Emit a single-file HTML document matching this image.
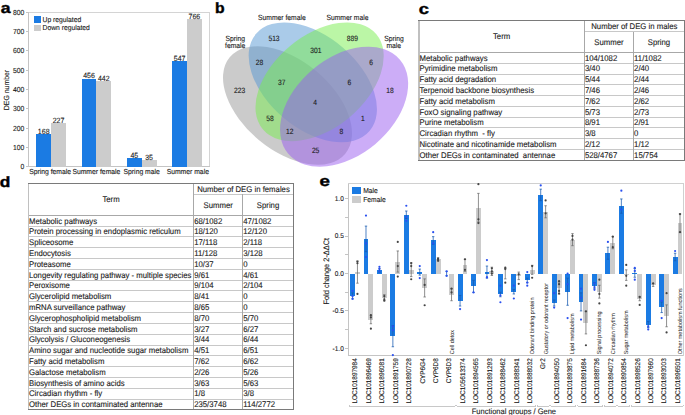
<!DOCTYPE html>
<html><head><meta charset="utf-8"><style>
html,body{margin:0;padding:0;background:#fff;}
body{width:685px;height:415px;overflow:hidden;}
svg{display:block;font-family:"Liberation Sans", sans-serif;} text{white-space:pre;}
</style></head><body>
<svg width="685" height="415" viewBox="0 0 685 415" shape-rendering="crispEdges" text-rendering="geometricPrecision">
<rect width="685" height="415" fill="#fff"/>
<text x="0.80" y="13.00" font-size="15.00" text-anchor="start" fill="#000"  font-weight="bold"  stroke="#000" stroke-width="0.4" textLength="9.8" lengthAdjust="spacingAndGlyphs">a</text>
<text x="214.90" y="13.00" font-size="15.00" text-anchor="start" fill="#000"  font-weight="bold"  stroke="#000" stroke-width="0.4" textLength="9.6" lengthAdjust="spacingAndGlyphs">b</text>
<text x="418.80" y="13.50" font-size="15.00" text-anchor="start" fill="#000"  font-weight="bold"  stroke="#000" stroke-width="0.4" textLength="10.2" lengthAdjust="spacingAndGlyphs">c</text>
<text x="-0.20" y="186.50" font-size="15.00" text-anchor="start" fill="#000"  font-weight="bold"  stroke="#000" stroke-width="0.4" textLength="10.6" lengthAdjust="spacingAndGlyphs">d</text>
<text x="319.60" y="186.00" font-size="15.00" text-anchor="start" fill="#000"  font-weight="bold"  stroke="#000" stroke-width="0.4" textLength="10.4" lengthAdjust="spacingAndGlyphs">e</text>
<line  x1="28.50" y1="12.40" x2="28.50" y2="166.80" stroke="#c4c4c4" stroke-width="1"/>
<line  x1="26.00" y1="12.40" x2="209.50" y2="12.40" stroke="#d4d4d4" stroke-width="1"/>
<line  x1="209.50" y1="12.40" x2="209.50" y2="166.80" stroke="#d4d4d4" stroke-width="1"/>
<line  x1="26.00" y1="166.80" x2="209.50" y2="166.80" stroke="#c4c4c4" stroke-width="1"/>
<line  x1="26.00" y1="166.80" x2="28.50" y2="166.80" stroke="#c4c4c4" stroke-width="1"/>
<text x="24.30" y="169.20" font-size="7.28" text-anchor="end" fill="#1a1a1a" stroke="#1a1a1a" stroke-width="0.12" font-weight="normal" textLength="3.78" lengthAdjust="spacingAndGlyphs" >0</text>
<line  x1="26.00" y1="147.48" x2="28.50" y2="147.48" stroke="#c4c4c4" stroke-width="1"/>
<text x="24.30" y="149.88" font-size="7.28" text-anchor="end" fill="#1a1a1a" stroke="#1a1a1a" stroke-width="0.12" font-weight="normal" textLength="11.34" lengthAdjust="spacingAndGlyphs" >100</text>
<line  x1="26.00" y1="128.16" x2="28.50" y2="128.16" stroke="#c4c4c4" stroke-width="1"/>
<text x="24.30" y="130.56" font-size="7.28" text-anchor="end" fill="#1a1a1a" stroke="#1a1a1a" stroke-width="0.12" font-weight="normal" textLength="11.34" lengthAdjust="spacingAndGlyphs" >200</text>
<line  x1="26.00" y1="108.84" x2="28.50" y2="108.84" stroke="#c4c4c4" stroke-width="1"/>
<text x="24.30" y="111.24" font-size="7.28" text-anchor="end" fill="#1a1a1a" stroke="#1a1a1a" stroke-width="0.12" font-weight="normal" textLength="11.34" lengthAdjust="spacingAndGlyphs" >300</text>
<line  x1="26.00" y1="89.52" x2="28.50" y2="89.52" stroke="#c4c4c4" stroke-width="1"/>
<text x="24.30" y="91.92" font-size="7.28" text-anchor="end" fill="#1a1a1a" stroke="#1a1a1a" stroke-width="0.12" font-weight="normal" textLength="11.34" lengthAdjust="spacingAndGlyphs" >400</text>
<line  x1="26.00" y1="70.20" x2="28.50" y2="70.20" stroke="#c4c4c4" stroke-width="1"/>
<text x="24.30" y="72.60" font-size="7.28" text-anchor="end" fill="#1a1a1a" stroke="#1a1a1a" stroke-width="0.12" font-weight="normal" textLength="11.34" lengthAdjust="spacingAndGlyphs" >500</text>
<line  x1="26.00" y1="50.88" x2="28.50" y2="50.88" stroke="#c4c4c4" stroke-width="1"/>
<text x="24.30" y="53.28" font-size="7.28" text-anchor="end" fill="#1a1a1a" stroke="#1a1a1a" stroke-width="0.12" font-weight="normal" textLength="11.34" lengthAdjust="spacingAndGlyphs" >600</text>
<line  x1="26.00" y1="31.56" x2="28.50" y2="31.56" stroke="#c4c4c4" stroke-width="1"/>
<text x="24.30" y="33.96" font-size="7.28" text-anchor="end" fill="#1a1a1a" stroke="#1a1a1a" stroke-width="0.12" font-weight="normal" textLength="11.34" lengthAdjust="spacingAndGlyphs" >700</text>
<line  x1="26.00" y1="12.24" x2="28.50" y2="12.24" stroke="#c4c4c4" stroke-width="1"/>
<text x="24.30" y="14.64" font-size="7.28" text-anchor="end" fill="#1a1a1a" stroke="#1a1a1a" stroke-width="0.12" font-weight="normal" textLength="11.34" lengthAdjust="spacingAndGlyphs" >800</text>
<text x="0.00" y="0.00" font-size="7.38" text-anchor="middle" fill="#1a1a1a" stroke="#1a1a1a" stroke-width="0.12" font-weight="normal" textLength="40.26" lengthAdjust="spacingAndGlyphs" transform="translate(9.3,90) rotate(-90)">DEG number</text>
<rect x="36.30" y="134.34" width="14.80" height="32.46" fill="#1b7be3"/>
<rect x="51.10" y="122.94" width="14.80" height="43.86" fill="#cccccc"/>
<text x="43.70" y="133.74" font-size="7.49" text-anchor="middle" fill="#1a1a1a" stroke="#1a1a1a" stroke-width="0.12" font-weight="normal" textLength="11.68" lengthAdjust="spacingAndGlyphs" >168</text>
<text x="58.50" y="122.64" font-size="7.49" text-anchor="middle" fill="#1a1a1a" stroke="#1a1a1a" stroke-width="0.12" font-weight="normal" textLength="11.68" lengthAdjust="spacingAndGlyphs" >227</text>
<text x="50.10" y="174.00" font-size="7.28" text-anchor="middle" fill="#1a1a1a" stroke="#1a1a1a" stroke-width="0.12" font-weight="normal" textLength="41.95" lengthAdjust="spacingAndGlyphs" >Spring female</text>
<rect x="81.60" y="78.70" width="14.80" height="88.10" fill="#1b7be3"/>
<rect x="96.40" y="81.41" width="14.80" height="85.39" fill="#cccccc"/>
<text x="89.00" y="78.10" font-size="7.49" text-anchor="middle" fill="#1a1a1a" stroke="#1a1a1a" stroke-width="0.12" font-weight="normal" textLength="11.68" lengthAdjust="spacingAndGlyphs" >456</text>
<text x="103.80" y="81.11" font-size="7.49" text-anchor="middle" fill="#1a1a1a" stroke="#1a1a1a" stroke-width="0.12" font-weight="normal" textLength="11.68" lengthAdjust="spacingAndGlyphs" >442</text>
<text x="96.40" y="174.00" font-size="7.28" text-anchor="middle" fill="#1a1a1a" stroke="#1a1a1a" stroke-width="0.12" font-weight="normal" textLength="47.99" lengthAdjust="spacingAndGlyphs" >Summer female</text>
<rect x="126.90" y="158.11" width="14.80" height="8.69" fill="#1b7be3"/>
<rect x="141.70" y="160.04" width="14.80" height="6.76" fill="#cccccc"/>
<text x="134.30" y="157.51" font-size="7.49" text-anchor="middle" fill="#1a1a1a" stroke="#1a1a1a" stroke-width="0.12" font-weight="normal" textLength="7.79" lengthAdjust="spacingAndGlyphs" >45</text>
<text x="149.10" y="159.74" font-size="7.49" text-anchor="middle" fill="#1a1a1a" stroke="#1a1a1a" stroke-width="0.12" font-weight="normal" textLength="7.79" lengthAdjust="spacingAndGlyphs" >35</text>
<text x="141.70" y="174.00" font-size="7.28" text-anchor="middle" fill="#1a1a1a" stroke="#1a1a1a" stroke-width="0.12" font-weight="normal" textLength="36.28" lengthAdjust="spacingAndGlyphs" >Spring male</text>
<rect x="172.20" y="61.12" width="14.80" height="105.68" fill="#1b7be3"/>
<rect x="187.00" y="18.81" width="14.80" height="147.99" fill="#cccccc"/>
<text x="179.60" y="60.52" font-size="7.49" text-anchor="middle" fill="#1a1a1a" stroke="#1a1a1a" stroke-width="0.12" font-weight="normal" textLength="11.68" lengthAdjust="spacingAndGlyphs" >547</text>
<text x="194.40" y="18.51" font-size="7.49" text-anchor="middle" fill="#1a1a1a" stroke="#1a1a1a" stroke-width="0.12" font-weight="normal" textLength="11.68" lengthAdjust="spacingAndGlyphs" >766</text>
<text x="187.80" y="174.00" font-size="7.28" text-anchor="middle" fill="#1a1a1a" stroke="#1a1a1a" stroke-width="0.12" font-weight="normal" textLength="42.32" lengthAdjust="spacingAndGlyphs" >Summer male</text>
<rect x="34.00" y="16.30" width="7.00" height="6.20" fill="#1b7be3"/>
<rect x="34.00" y="24.90" width="7.00" height="5.80" fill="#cccccc"/>
<text x="42.60" y="21.60" font-size="7.22" text-anchor="start" fill="#1a1a1a" stroke="#1a1a1a" stroke-width="0.12" font-weight="normal" textLength="38.65" lengthAdjust="spacingAndGlyphs" >Up regulated</text>
<text x="42.60" y="30.20" font-size="7.22" text-anchor="start" fill="#1a1a1a" stroke="#1a1a1a" stroke-width="0.12" font-weight="normal" textLength="47.28" lengthAdjust="spacingAndGlyphs" >Down regulated</text>
<ellipse shape-rendering="geometricPrecision" cx="287.50" cy="105.50" rx="75.20" ry="44.80" transform="rotate(39.8 287.50 105.50)" fill="#979797" fill-opacity="0.5"/>
<ellipse shape-rendering="geometricPrecision" cx="312.80" cy="82.40" rx="74.70" ry="46.00" transform="rotate(40.6 312.80 82.40)" fill="#5597d3" fill-opacity="0.5"/>
<ellipse shape-rendering="geometricPrecision" cx="319.60" cy="81.80" rx="74.00" ry="46.40" transform="rotate(140.1 319.60 81.80)" fill="#77ed4d" fill-opacity="0.5"/>
<ellipse shape-rendering="geometricPrecision" cx="344.10" cy="106.70" rx="73.00" ry="48.70" transform="rotate(139.9 344.10 106.70)" fill="#9a5cf0" fill-opacity="0.5"/>
<text x="274.00" y="40.90" font-size="7.70" text-anchor="middle" fill="#1a1a1a" stroke="#1a1a1a" stroke-width="0.12" font-weight="normal" textLength="11.18" lengthAdjust="spacingAndGlyphs" >513</text>
<text x="352.40" y="40.90" font-size="7.70" text-anchor="middle" fill="#1a1a1a" stroke="#1a1a1a" stroke-width="0.12" font-weight="normal" textLength="11.18" lengthAdjust="spacingAndGlyphs" >889</text>
<text x="259.50" y="64.60" font-size="7.70" text-anchor="middle" fill="#1a1a1a" stroke="#1a1a1a" stroke-width="0.12" font-weight="normal" textLength="7.45" lengthAdjust="spacingAndGlyphs" >28</text>
<text x="315.80" y="52.60" font-size="7.70" text-anchor="middle" fill="#1a1a1a" stroke="#1a1a1a" stroke-width="0.12" font-weight="normal" textLength="11.18" lengthAdjust="spacingAndGlyphs" >301</text>
<text x="371.00" y="64.60" font-size="7.70" text-anchor="middle" fill="#1a1a1a" stroke="#1a1a1a" stroke-width="0.12" font-weight="normal" textLength="3.73" lengthAdjust="spacingAndGlyphs" >6</text>
<text x="239.70" y="93.30" font-size="7.70" text-anchor="middle" fill="#1a1a1a" stroke="#1a1a1a" stroke-width="0.12" font-weight="normal" textLength="11.18" lengthAdjust="spacingAndGlyphs" >223</text>
<text x="281.70" y="84.90" font-size="7.70" text-anchor="middle" fill="#1a1a1a" stroke="#1a1a1a" stroke-width="0.12" font-weight="normal" textLength="7.45" lengthAdjust="spacingAndGlyphs" >37</text>
<text x="349.30" y="84.90" font-size="7.70" text-anchor="middle" fill="#1a1a1a" stroke="#1a1a1a" stroke-width="0.12" font-weight="normal" textLength="3.73" lengthAdjust="spacingAndGlyphs" >6</text>
<text x="390.00" y="93.30" font-size="7.70" text-anchor="middle" fill="#1a1a1a" stroke="#1a1a1a" stroke-width="0.12" font-weight="normal" textLength="7.45" lengthAdjust="spacingAndGlyphs" >18</text>
<text x="315.20" y="105.20" font-size="7.70" text-anchor="middle" fill="#1a1a1a" stroke="#1a1a1a" stroke-width="0.12" font-weight="normal" textLength="3.73" lengthAdjust="spacingAndGlyphs" >4</text>
<text x="269.90" y="120.80" font-size="7.70" text-anchor="middle" fill="#1a1a1a" stroke="#1a1a1a" stroke-width="0.12" font-weight="normal" textLength="7.45" lengthAdjust="spacingAndGlyphs" >58</text>
<text x="362.90" y="120.80" font-size="7.70" text-anchor="middle" fill="#1a1a1a" stroke="#1a1a1a" stroke-width="0.12" font-weight="normal" textLength="3.73" lengthAdjust="spacingAndGlyphs" >1</text>
<text x="289.80" y="134.30" font-size="7.70" text-anchor="middle" fill="#1a1a1a" stroke="#1a1a1a" stroke-width="0.12" font-weight="normal" textLength="7.45" lengthAdjust="spacingAndGlyphs" >12</text>
<text x="341.40" y="134.30" font-size="7.70" text-anchor="middle" fill="#1a1a1a" stroke="#1a1a1a" stroke-width="0.12" font-weight="normal" textLength="3.73" lengthAdjust="spacingAndGlyphs" >8</text>
<text x="315.60" y="152.60" font-size="7.70" text-anchor="middle" fill="#1a1a1a" stroke="#1a1a1a" stroke-width="0.12" font-weight="normal" textLength="7.45" lengthAdjust="spacingAndGlyphs" >25</text>
<text x="281.90" y="20.20" font-size="7.56" text-anchor="middle" fill="#1a1a1a" stroke="#1a1a1a" stroke-width="0.12" font-weight="normal" textLength="47.64" lengthAdjust="spacingAndGlyphs" >Summer female</text>
<text x="347.50" y="20.20" font-size="7.56" text-anchor="middle" fill="#1a1a1a" stroke="#1a1a1a" stroke-width="0.12" font-weight="normal" textLength="42.01" lengthAdjust="spacingAndGlyphs" >Summer male</text>
<text x="235.20" y="40.90" font-size="7.56" text-anchor="middle" fill="#1a1a1a" stroke="#1a1a1a" stroke-width="0.12" font-weight="normal" textLength="19.51" lengthAdjust="spacingAndGlyphs" >Spring</text>
<text x="235.20" y="47.70" font-size="7.56" text-anchor="middle" fill="#1a1a1a" stroke="#1a1a1a" stroke-width="0.12" font-weight="normal" textLength="20.26" lengthAdjust="spacingAndGlyphs" >female</text>
<text x="394.00" y="40.90" font-size="7.56" text-anchor="middle" fill="#1a1a1a" stroke="#1a1a1a" stroke-width="0.12" font-weight="normal" textLength="19.51" lengthAdjust="spacingAndGlyphs" >Spring</text>
<text x="393.80" y="47.70" font-size="7.56" text-anchor="middle" fill="#1a1a1a" stroke="#1a1a1a" stroke-width="0.12" font-weight="normal" textLength="14.63" lengthAdjust="spacingAndGlyphs" >male</text>
<line  x1="418.90" y1="63.27" x2="684.40" y2="63.27" stroke="#c8c8c8" stroke-width="1"/>
<line  x1="418.90" y1="74.04" x2="684.40" y2="74.04" stroke="#c8c8c8" stroke-width="1"/>
<line  x1="418.90" y1="84.81" x2="684.40" y2="84.81" stroke="#c8c8c8" stroke-width="1"/>
<line  x1="418.90" y1="95.58" x2="684.40" y2="95.58" stroke="#c8c8c8" stroke-width="1"/>
<line  x1="418.90" y1="106.35" x2="684.40" y2="106.35" stroke="#c8c8c8" stroke-width="1"/>
<line  x1="418.90" y1="117.12" x2="684.40" y2="117.12" stroke="#c8c8c8" stroke-width="1"/>
<line  x1="418.90" y1="127.89" x2="684.40" y2="127.89" stroke="#c8c8c8" stroke-width="1"/>
<line  x1="418.90" y1="138.66" x2="684.40" y2="138.66" stroke="#c8c8c8" stroke-width="1"/>
<line  x1="418.90" y1="149.43" x2="684.40" y2="149.43" stroke="#c8c8c8" stroke-width="1"/>
<line  x1="584.30" y1="31.50" x2="684.40" y2="31.50" stroke="#c8c8c8" stroke-width="1"/>
<line  x1="418.90" y1="52.50" x2="684.40" y2="52.50" stroke="#a8a8a8" stroke-width="1"/>
<line  x1="584.30" y1="20.60" x2="584.30" y2="160.20" stroke="#a8a8a8" stroke-width="1"/>
<line  x1="633.50" y1="31.50" x2="633.50" y2="160.20" stroke="#a8a8a8" stroke-width="1"/>
<line  x1="418.90" y1="20.60" x2="418.90" y2="160.20" stroke="#c0c0c0" stroke-width="1.2"/>
<line  x1="418.40" y1="20.60" x2="684.90" y2="20.60" stroke="#7a7a7a" stroke-width="1"/>
<line  x1="684.40" y1="20.60" x2="684.40" y2="160.70" stroke="#7a7a7a" stroke-width="1"/>
<line  x1="418.40" y1="160.20" x2="684.90" y2="160.20" stroke="#7a7a7a" stroke-width="1"/>
<text x="501.60" y="39.35" font-size="8.29" text-anchor="middle" fill="#1a1a1a" stroke="#1a1a1a" stroke-width="0.12" font-weight="normal" textLength="17.22" lengthAdjust="spacingAndGlyphs" >Term</text>
<text x="634.35" y="28.85" font-size="8.29" text-anchor="middle" fill="#1a1a1a" stroke="#1a1a1a" stroke-width="0.12" font-weight="normal" textLength="86.14" lengthAdjust="spacingAndGlyphs" >Number of DEG in males</text>
<text x="608.90" y="44.80" font-size="8.29" text-anchor="middle" fill="#1a1a1a" stroke="#1a1a1a" stroke-width="0.12" font-weight="normal" textLength="29.28" lengthAdjust="spacingAndGlyphs" >Summer</text>
<text x="658.95" y="44.80" font-size="8.29" text-anchor="middle" fill="#1a1a1a" stroke="#1a1a1a" stroke-width="0.12" font-weight="normal" textLength="22.40" lengthAdjust="spacingAndGlyphs" >Spring</text>
<text x="419.50" y="60.70" font-size="8.29" text-anchor="start" fill="#1a1a1a" stroke="#1a1a1a" stroke-width="0.12" font-weight="normal" textLength="68.06" lengthAdjust="spacingAndGlyphs" >Metabolic pathways</text>
<text x="584.90" y="60.70" font-size="8.29" text-anchor="start" fill="#1a1a1a" stroke="#1a1a1a" stroke-width="0.12" font-weight="normal" textLength="32.32" lengthAdjust="spacingAndGlyphs" >104/1082</text>
<text x="634.10" y="60.70" font-size="8.29" text-anchor="start" fill="#1a1a1a" stroke="#1a1a1a" stroke-width="0.12" font-weight="normal" textLength="27.44" lengthAdjust="spacingAndGlyphs" >11/1082</text>
<text x="419.50" y="71.47" font-size="8.29" text-anchor="start" fill="#1a1a1a" stroke="#1a1a1a" stroke-width="0.12" font-weight="normal" textLength="77.95" lengthAdjust="spacingAndGlyphs" >Pyrimidine metabolism</text>
<text x="584.90" y="71.47" font-size="8.29" text-anchor="start" fill="#1a1a1a" stroke="#1a1a1a" stroke-width="0.12" font-weight="normal" textLength="15.08" lengthAdjust="spacingAndGlyphs" >3/40</text>
<text x="634.10" y="71.47" font-size="8.29" text-anchor="start" fill="#1a1a1a" stroke="#1a1a1a" stroke-width="0.12" font-weight="normal" textLength="15.08" lengthAdjust="spacingAndGlyphs" >2/40</text>
<text x="419.50" y="82.24" font-size="8.29" text-anchor="start" fill="#1a1a1a" stroke="#1a1a1a" stroke-width="0.12" font-weight="normal" textLength="76.68" lengthAdjust="spacingAndGlyphs" >Fatty acid degradation</text>
<text x="584.90" y="82.24" font-size="8.29" text-anchor="start" fill="#1a1a1a" stroke="#1a1a1a" stroke-width="0.12" font-weight="normal" textLength="15.08" lengthAdjust="spacingAndGlyphs" >5/44</text>
<text x="634.10" y="82.24" font-size="8.29" text-anchor="start" fill="#1a1a1a" stroke="#1a1a1a" stroke-width="0.12" font-weight="normal" textLength="15.08" lengthAdjust="spacingAndGlyphs" >2/44</text>
<text x="419.50" y="93.01" font-size="8.29" text-anchor="start" fill="#1a1a1a" stroke="#1a1a1a" stroke-width="0.12" font-weight="normal" textLength="114.60" lengthAdjust="spacingAndGlyphs" >Terpenoid backbone biosynthesis</text>
<text x="584.90" y="93.01" font-size="8.29" text-anchor="start" fill="#1a1a1a" stroke="#1a1a1a" stroke-width="0.12" font-weight="normal" textLength="15.08" lengthAdjust="spacingAndGlyphs" >7/46</text>
<text x="634.10" y="93.01" font-size="8.29" text-anchor="start" fill="#1a1a1a" stroke="#1a1a1a" stroke-width="0.12" font-weight="normal" textLength="15.08" lengthAdjust="spacingAndGlyphs" >2/46</text>
<text x="419.50" y="103.78" font-size="8.29" text-anchor="start" fill="#1a1a1a" stroke="#1a1a1a" stroke-width="0.12" font-weight="normal" textLength="75.37" lengthAdjust="spacingAndGlyphs" >Fatty acid metabolism</text>
<text x="584.90" y="103.78" font-size="8.29" text-anchor="start" fill="#1a1a1a" stroke="#1a1a1a" stroke-width="0.12" font-weight="normal" textLength="15.08" lengthAdjust="spacingAndGlyphs" >7/62</text>
<text x="634.10" y="103.78" font-size="8.29" text-anchor="start" fill="#1a1a1a" stroke="#1a1a1a" stroke-width="0.12" font-weight="normal" textLength="15.08" lengthAdjust="spacingAndGlyphs" >2/62</text>
<text x="419.50" y="114.55" font-size="8.29" text-anchor="start" fill="#1a1a1a" stroke="#1a1a1a" stroke-width="0.12" font-weight="normal" textLength="82.71" lengthAdjust="spacingAndGlyphs" >FoxO signaling pathway</text>
<text x="584.90" y="114.55" font-size="8.29" text-anchor="start" fill="#1a1a1a" stroke="#1a1a1a" stroke-width="0.12" font-weight="normal" textLength="15.08" lengthAdjust="spacingAndGlyphs" >5/73</text>
<text x="634.10" y="114.55" font-size="8.29" text-anchor="start" fill="#1a1a1a" stroke="#1a1a1a" stroke-width="0.12" font-weight="normal" textLength="15.08" lengthAdjust="spacingAndGlyphs" >2/73</text>
<text x="419.50" y="125.32" font-size="8.29" text-anchor="start" fill="#1a1a1a" stroke="#1a1a1a" stroke-width="0.12" font-weight="normal" textLength="64.18" lengthAdjust="spacingAndGlyphs" >Purine metabolism</text>
<text x="584.90" y="125.32" font-size="8.29" text-anchor="start" fill="#1a1a1a" stroke="#1a1a1a" stroke-width="0.12" font-weight="normal" textLength="15.08" lengthAdjust="spacingAndGlyphs" >8/91</text>
<text x="634.10" y="125.32" font-size="8.29" text-anchor="start" fill="#1a1a1a" stroke="#1a1a1a" stroke-width="0.12" font-weight="normal" textLength="15.08" lengthAdjust="spacingAndGlyphs" >2/91</text>
<text x="419.50" y="136.09" font-size="8.29" text-anchor="start" fill="#1a1a1a" stroke="#1a1a1a" stroke-width="0.12" font-weight="normal" textLength="75.36" lengthAdjust="spacingAndGlyphs" >Circadian rhythm  - fly</text>
<text x="584.90" y="136.09" font-size="8.29" text-anchor="start" fill="#1a1a1a" stroke="#1a1a1a" stroke-width="0.12" font-weight="normal" textLength="10.77" lengthAdjust="spacingAndGlyphs" >3/8</text>
<text x="634.10" y="136.09" font-size="8.29" text-anchor="start" fill="#1a1a1a" stroke="#1a1a1a" stroke-width="0.12" font-weight="normal" textLength="4.31" lengthAdjust="spacingAndGlyphs" >0</text>
<text x="419.50" y="146.86" font-size="8.29" text-anchor="start" fill="#1a1a1a" stroke="#1a1a1a" stroke-width="0.12" font-weight="normal" textLength="136.98" lengthAdjust="spacingAndGlyphs" >Nicotinate and nicotinamide metabolism</text>
<text x="584.90" y="146.86" font-size="8.29" text-anchor="start" fill="#1a1a1a" stroke="#1a1a1a" stroke-width="0.12" font-weight="normal" textLength="15.08" lengthAdjust="spacingAndGlyphs" >2/12</text>
<text x="634.10" y="146.86" font-size="8.29" text-anchor="start" fill="#1a1a1a" stroke="#1a1a1a" stroke-width="0.12" font-weight="normal" textLength="15.08" lengthAdjust="spacingAndGlyphs" >1/12</text>
<text x="419.50" y="157.63" font-size="8.29" text-anchor="start" fill="#1a1a1a" stroke="#1a1a1a" stroke-width="0.12" font-weight="normal" textLength="135.70" lengthAdjust="spacingAndGlyphs" >Other DEGs in contaminated  antennae</text>
<text x="584.90" y="157.63" font-size="8.29" text-anchor="start" fill="#1a1a1a" stroke="#1a1a1a" stroke-width="0.12" font-weight="normal" textLength="32.32" lengthAdjust="spacingAndGlyphs" >528/4767</text>
<text x="634.10" y="157.63" font-size="8.29" text-anchor="start" fill="#1a1a1a" stroke="#1a1a1a" stroke-width="0.12" font-weight="normal" textLength="23.70" lengthAdjust="spacingAndGlyphs" >15/754</text>
<line  x1="28.40" y1="226.11" x2="293.40" y2="226.11" stroke="#c8c8c8" stroke-width="1"/>
<line  x1="28.40" y1="236.92" x2="293.40" y2="236.92" stroke="#c8c8c8" stroke-width="1"/>
<line  x1="28.40" y1="247.73" x2="293.40" y2="247.73" stroke="#c8c8c8" stroke-width="1"/>
<line  x1="28.40" y1="258.54" x2="293.40" y2="258.54" stroke="#c8c8c8" stroke-width="1"/>
<line  x1="28.40" y1="269.35" x2="293.40" y2="269.35" stroke="#c8c8c8" stroke-width="1"/>
<line  x1="28.40" y1="280.16" x2="293.40" y2="280.16" stroke="#c8c8c8" stroke-width="1"/>
<line  x1="28.40" y1="290.97" x2="293.40" y2="290.97" stroke="#c8c8c8" stroke-width="1"/>
<line  x1="28.40" y1="301.78" x2="293.40" y2="301.78" stroke="#c8c8c8" stroke-width="1"/>
<line  x1="28.40" y1="312.59" x2="293.40" y2="312.59" stroke="#c8c8c8" stroke-width="1"/>
<line  x1="28.40" y1="323.40" x2="293.40" y2="323.40" stroke="#c8c8c8" stroke-width="1"/>
<line  x1="28.40" y1="334.21" x2="293.40" y2="334.21" stroke="#c8c8c8" stroke-width="1"/>
<line  x1="28.40" y1="345.02" x2="293.40" y2="345.02" stroke="#c8c8c8" stroke-width="1"/>
<line  x1="28.40" y1="355.83" x2="293.40" y2="355.83" stroke="#c8c8c8" stroke-width="1"/>
<line  x1="28.40" y1="366.64" x2="293.40" y2="366.64" stroke="#c8c8c8" stroke-width="1"/>
<line  x1="28.40" y1="377.45" x2="293.40" y2="377.45" stroke="#c8c8c8" stroke-width="1"/>
<line  x1="28.40" y1="388.26" x2="293.40" y2="388.26" stroke="#c8c8c8" stroke-width="1"/>
<line  x1="28.40" y1="399.07" x2="293.40" y2="399.07" stroke="#c8c8c8" stroke-width="1"/>
<line  x1="193.60" y1="194.40" x2="293.40" y2="194.40" stroke="#c8c8c8" stroke-width="1"/>
<line  x1="28.40" y1="215.30" x2="293.40" y2="215.30" stroke="#a8a8a8" stroke-width="1"/>
<line  x1="193.60" y1="183.50" x2="193.60" y2="409.88" stroke="#a8a8a8" stroke-width="1"/>
<line  x1="242.70" y1="194.40" x2="242.70" y2="409.88" stroke="#a8a8a8" stroke-width="1"/>
<line  x1="28.40" y1="183.50" x2="28.40" y2="409.88" stroke="#c0c0c0" stroke-width="1.2"/>
<line  x1="27.90" y1="183.50" x2="293.90" y2="183.50" stroke="#7a7a7a" stroke-width="1"/>
<line  x1="293.40" y1="183.50" x2="293.40" y2="410.38" stroke="#7a7a7a" stroke-width="1"/>
<line  x1="27.90" y1="409.88" x2="293.90" y2="409.88" stroke="#7a7a7a" stroke-width="1"/>
<text x="111.00" y="202.20" font-size="8.29" text-anchor="middle" fill="#1a1a1a" stroke="#1a1a1a" stroke-width="0.12" font-weight="normal" textLength="17.22" lengthAdjust="spacingAndGlyphs" >Term</text>
<text x="243.50" y="191.75" font-size="8.29" text-anchor="middle" fill="#1a1a1a" stroke="#1a1a1a" stroke-width="0.12" font-weight="normal" textLength="92.60" lengthAdjust="spacingAndGlyphs" >Number of DEG in females</text>
<text x="218.15" y="207.65" font-size="8.29" text-anchor="middle" fill="#1a1a1a" stroke="#1a1a1a" stroke-width="0.12" font-weight="normal" textLength="29.28" lengthAdjust="spacingAndGlyphs" >Summer</text>
<text x="268.05" y="207.65" font-size="8.29" text-anchor="middle" fill="#1a1a1a" stroke="#1a1a1a" stroke-width="0.12" font-weight="normal" textLength="22.40" lengthAdjust="spacingAndGlyphs" >Spring</text>
<text x="29.00" y="223.50" font-size="8.29" text-anchor="start" fill="#1a1a1a" stroke="#1a1a1a" stroke-width="0.12" font-weight="normal" textLength="68.06" lengthAdjust="spacingAndGlyphs" >Metabolic pathways</text>
<text x="194.20" y="223.50" font-size="8.29" text-anchor="start" fill="#1a1a1a" stroke="#1a1a1a" stroke-width="0.12" font-weight="normal" textLength="28.01" lengthAdjust="spacingAndGlyphs" >68/1082</text>
<text x="243.30" y="223.50" font-size="8.29" text-anchor="start" fill="#1a1a1a" stroke="#1a1a1a" stroke-width="0.12" font-weight="normal" textLength="28.01" lengthAdjust="spacingAndGlyphs" >47/1082</text>
<text x="29.00" y="234.31" font-size="8.29" text-anchor="start" fill="#1a1a1a" stroke="#1a1a1a" stroke-width="0.12" font-weight="normal" textLength="151.62" lengthAdjust="spacingAndGlyphs" >Protein processing in endoplasmic reticulum</text>
<text x="194.20" y="234.31" font-size="8.29" text-anchor="start" fill="#1a1a1a" stroke="#1a1a1a" stroke-width="0.12" font-weight="normal" textLength="23.70" lengthAdjust="spacingAndGlyphs" >18/120</text>
<text x="243.30" y="234.31" font-size="8.29" text-anchor="start" fill="#1a1a1a" stroke="#1a1a1a" stroke-width="0.12" font-weight="normal" textLength="23.70" lengthAdjust="spacingAndGlyphs" >12/120</text>
<text x="29.00" y="245.12" font-size="8.29" text-anchor="start" fill="#1a1a1a" stroke="#1a1a1a" stroke-width="0.12" font-weight="normal" textLength="44.37" lengthAdjust="spacingAndGlyphs" >Spliceosome</text>
<text x="194.20" y="245.12" font-size="8.29" text-anchor="start" fill="#1a1a1a" stroke="#1a1a1a" stroke-width="0.12" font-weight="normal" textLength="23.13" lengthAdjust="spacingAndGlyphs" >17/118</text>
<text x="243.30" y="245.12" font-size="8.29" text-anchor="start" fill="#1a1a1a" stroke="#1a1a1a" stroke-width="0.12" font-weight="normal" textLength="18.82" lengthAdjust="spacingAndGlyphs" >2/118</text>
<text x="29.00" y="255.93" font-size="8.29" text-anchor="start" fill="#1a1a1a" stroke="#1a1a1a" stroke-width="0.12" font-weight="normal" textLength="41.78" lengthAdjust="spacingAndGlyphs" >Endocytosis</text>
<text x="194.20" y="255.93" font-size="8.29" text-anchor="start" fill="#1a1a1a" stroke="#1a1a1a" stroke-width="0.12" font-weight="normal" textLength="23.13" lengthAdjust="spacingAndGlyphs" >11/128</text>
<text x="243.30" y="255.93" font-size="8.29" text-anchor="start" fill="#1a1a1a" stroke="#1a1a1a" stroke-width="0.12" font-weight="normal" textLength="19.39" lengthAdjust="spacingAndGlyphs" >3/128</text>
<text x="29.00" y="266.74" font-size="8.29" text-anchor="start" fill="#1a1a1a" stroke="#1a1a1a" stroke-width="0.12" font-weight="normal" textLength="41.78" lengthAdjust="spacingAndGlyphs" >Proteasome</text>
<text x="194.20" y="266.74" font-size="8.29" text-anchor="start" fill="#1a1a1a" stroke="#1a1a1a" stroke-width="0.12" font-weight="normal" textLength="19.39" lengthAdjust="spacingAndGlyphs" >10/37</text>
<text x="243.30" y="266.74" font-size="8.29" text-anchor="start" fill="#1a1a1a" stroke="#1a1a1a" stroke-width="0.12" font-weight="normal" textLength="4.31" lengthAdjust="spacingAndGlyphs" >0</text>
<text x="29.00" y="277.55" font-size="8.29" text-anchor="start" fill="#1a1a1a" stroke="#1a1a1a" stroke-width="0.12" font-weight="normal" textLength="162.40" lengthAdjust="spacingAndGlyphs" >Longevity regulating pathway - multiple species</text>
<text x="194.20" y="277.55" font-size="8.29" text-anchor="start" fill="#1a1a1a" stroke="#1a1a1a" stroke-width="0.12" font-weight="normal" textLength="15.08" lengthAdjust="spacingAndGlyphs" >9/61</text>
<text x="243.30" y="277.55" font-size="8.29" text-anchor="start" fill="#1a1a1a" stroke="#1a1a1a" stroke-width="0.12" font-weight="normal" textLength="15.08" lengthAdjust="spacingAndGlyphs" >4/61</text>
<text x="29.00" y="288.36" font-size="8.29" text-anchor="start" fill="#1a1a1a" stroke="#1a1a1a" stroke-width="0.12" font-weight="normal" textLength="40.92" lengthAdjust="spacingAndGlyphs" >Peroxisome</text>
<text x="194.20" y="288.36" font-size="8.29" text-anchor="start" fill="#1a1a1a" stroke="#1a1a1a" stroke-width="0.12" font-weight="normal" textLength="19.39" lengthAdjust="spacingAndGlyphs" >9/104</text>
<text x="243.30" y="288.36" font-size="8.29" text-anchor="start" fill="#1a1a1a" stroke="#1a1a1a" stroke-width="0.12" font-weight="normal" textLength="19.39" lengthAdjust="spacingAndGlyphs" >2/104</text>
<text x="29.00" y="299.17" font-size="8.29" text-anchor="start" fill="#1a1a1a" stroke="#1a1a1a" stroke-width="0.12" font-weight="normal" textLength="82.26" lengthAdjust="spacingAndGlyphs" >Glycerolipid metabolism</text>
<text x="194.20" y="299.17" font-size="8.29" text-anchor="start" fill="#1a1a1a" stroke="#1a1a1a" stroke-width="0.12" font-weight="normal" textLength="15.08" lengthAdjust="spacingAndGlyphs" >8/41</text>
<text x="243.30" y="299.17" font-size="8.29" text-anchor="start" fill="#1a1a1a" stroke="#1a1a1a" stroke-width="0.12" font-weight="normal" textLength="4.31" lengthAdjust="spacingAndGlyphs" >0</text>
<text x="29.00" y="309.98" font-size="8.29" text-anchor="start" fill="#1a1a1a" stroke="#1a1a1a" stroke-width="0.12" font-weight="normal" textLength="96.48" lengthAdjust="spacingAndGlyphs" >mRNA surveillance pathway</text>
<text x="194.20" y="309.98" font-size="8.29" text-anchor="start" fill="#1a1a1a" stroke="#1a1a1a" stroke-width="0.12" font-weight="normal" textLength="15.08" lengthAdjust="spacingAndGlyphs" >8/65</text>
<text x="243.30" y="309.98" font-size="8.29" text-anchor="start" fill="#1a1a1a" stroke="#1a1a1a" stroke-width="0.12" font-weight="normal" textLength="4.31" lengthAdjust="spacingAndGlyphs" >0</text>
<text x="29.00" y="320.79" font-size="8.29" text-anchor="start" fill="#1a1a1a" stroke="#1a1a1a" stroke-width="0.12" font-weight="normal" textLength="111.99" lengthAdjust="spacingAndGlyphs" >Glycerophospholipid metabolism</text>
<text x="194.20" y="320.79" font-size="8.29" text-anchor="start" fill="#1a1a1a" stroke="#1a1a1a" stroke-width="0.12" font-weight="normal" textLength="15.08" lengthAdjust="spacingAndGlyphs" >8/70</text>
<text x="243.30" y="320.79" font-size="8.29" text-anchor="start" fill="#1a1a1a" stroke="#1a1a1a" stroke-width="0.12" font-weight="normal" textLength="15.08" lengthAdjust="spacingAndGlyphs" >5/70</text>
<text x="29.00" y="331.60" font-size="8.29" text-anchor="start" fill="#1a1a1a" stroke="#1a1a1a" stroke-width="0.12" font-weight="normal" textLength="108.54" lengthAdjust="spacingAndGlyphs" >Starch and sucrose metabolism</text>
<text x="194.20" y="331.60" font-size="8.29" text-anchor="start" fill="#1a1a1a" stroke="#1a1a1a" stroke-width="0.12" font-weight="normal" textLength="15.08" lengthAdjust="spacingAndGlyphs" >3/27</text>
<text x="243.30" y="331.60" font-size="8.29" text-anchor="start" fill="#1a1a1a" stroke="#1a1a1a" stroke-width="0.12" font-weight="normal" textLength="15.08" lengthAdjust="spacingAndGlyphs" >6/27</text>
<text x="29.00" y="342.41" font-size="8.29" text-anchor="start" fill="#1a1a1a" stroke="#1a1a1a" stroke-width="0.12" font-weight="normal" textLength="101.22" lengthAdjust="spacingAndGlyphs" >Glycolysis / Gluconeogenesis</text>
<text x="194.20" y="342.41" font-size="8.29" text-anchor="start" fill="#1a1a1a" stroke="#1a1a1a" stroke-width="0.12" font-weight="normal" textLength="15.08" lengthAdjust="spacingAndGlyphs" >3/44</text>
<text x="243.30" y="342.41" font-size="8.29" text-anchor="start" fill="#1a1a1a" stroke="#1a1a1a" stroke-width="0.12" font-weight="normal" textLength="15.08" lengthAdjust="spacingAndGlyphs" >6/44</text>
<text x="29.00" y="353.22" font-size="8.29" text-anchor="start" fill="#1a1a1a" stroke="#1a1a1a" stroke-width="0.12" font-weight="normal" textLength="159.38" lengthAdjust="spacingAndGlyphs" >Amino sugar and nucleotide sugar metabolism</text>
<text x="194.20" y="353.22" font-size="8.29" text-anchor="start" fill="#1a1a1a" stroke="#1a1a1a" stroke-width="0.12" font-weight="normal" textLength="15.08" lengthAdjust="spacingAndGlyphs" >4/51</text>
<text x="243.30" y="353.22" font-size="8.29" text-anchor="start" fill="#1a1a1a" stroke="#1a1a1a" stroke-width="0.12" font-weight="normal" textLength="15.08" lengthAdjust="spacingAndGlyphs" >6/51</text>
<text x="29.00" y="364.03" font-size="8.29" text-anchor="start" fill="#1a1a1a" stroke="#1a1a1a" stroke-width="0.12" font-weight="normal" textLength="75.37" lengthAdjust="spacingAndGlyphs" >Fatty acid metabolism</text>
<text x="194.20" y="364.03" font-size="8.29" text-anchor="start" fill="#1a1a1a" stroke="#1a1a1a" stroke-width="0.12" font-weight="normal" textLength="15.08" lengthAdjust="spacingAndGlyphs" >7/62</text>
<text x="243.30" y="364.03" font-size="8.29" text-anchor="start" fill="#1a1a1a" stroke="#1a1a1a" stroke-width="0.12" font-weight="normal" textLength="15.08" lengthAdjust="spacingAndGlyphs" >6/62</text>
<text x="29.00" y="374.84" font-size="8.29" text-anchor="start" fill="#1a1a1a" stroke="#1a1a1a" stroke-width="0.12" font-weight="normal" textLength="76.67" lengthAdjust="spacingAndGlyphs" >Galactose metabolism</text>
<text x="194.20" y="374.84" font-size="8.29" text-anchor="start" fill="#1a1a1a" stroke="#1a1a1a" stroke-width="0.12" font-weight="normal" textLength="15.08" lengthAdjust="spacingAndGlyphs" >2/26</text>
<text x="243.30" y="374.84" font-size="8.29" text-anchor="start" fill="#1a1a1a" stroke="#1a1a1a" stroke-width="0.12" font-weight="normal" textLength="15.08" lengthAdjust="spacingAndGlyphs" >5/26</text>
<text x="29.00" y="385.65" font-size="8.29" text-anchor="start" fill="#1a1a1a" stroke="#1a1a1a" stroke-width="0.12" font-weight="normal" textLength="95.63" lengthAdjust="spacingAndGlyphs" >Biosynthesis of amino acids</text>
<text x="194.20" y="385.65" font-size="8.29" text-anchor="start" fill="#1a1a1a" stroke="#1a1a1a" stroke-width="0.12" font-weight="normal" textLength="15.08" lengthAdjust="spacingAndGlyphs" >3/63</text>
<text x="243.30" y="385.65" font-size="8.29" text-anchor="start" fill="#1a1a1a" stroke="#1a1a1a" stroke-width="0.12" font-weight="normal" textLength="15.08" lengthAdjust="spacingAndGlyphs" >5/63</text>
<text x="29.00" y="396.46" font-size="8.29" text-anchor="start" fill="#1a1a1a" stroke="#1a1a1a" stroke-width="0.12" font-weight="normal" textLength="73.21" lengthAdjust="spacingAndGlyphs" >Circadian rhythm - fly</text>
<text x="194.20" y="396.46" font-size="8.29" text-anchor="start" fill="#1a1a1a" stroke="#1a1a1a" stroke-width="0.12" font-weight="normal" textLength="10.77" lengthAdjust="spacingAndGlyphs" >1/8</text>
<text x="243.30" y="396.46" font-size="8.29" text-anchor="start" fill="#1a1a1a" stroke="#1a1a1a" stroke-width="0.12" font-weight="normal" textLength="10.77" lengthAdjust="spacingAndGlyphs" >3/8</text>
<text x="29.00" y="407.27" font-size="8.29" text-anchor="start" fill="#1a1a1a" stroke="#1a1a1a" stroke-width="0.12" font-weight="normal" textLength="133.54" lengthAdjust="spacingAndGlyphs" >Other DEGs in contaminated antennae</text>
<text x="194.20" y="407.27" font-size="8.29" text-anchor="start" fill="#1a1a1a" stroke="#1a1a1a" stroke-width="0.12" font-weight="normal" textLength="32.32" lengthAdjust="spacingAndGlyphs" >235/3748</text>
<text x="243.30" y="407.27" font-size="8.29" text-anchor="start" fill="#1a1a1a" stroke="#1a1a1a" stroke-width="0.12" font-weight="normal" textLength="31.75" lengthAdjust="spacingAndGlyphs" >114/2772</text>
<line  x1="348.00" y1="183.50" x2="683.80" y2="183.50" stroke="#d0d0d0" stroke-width="1"/>
<line  x1="348.00" y1="183.50" x2="348.00" y2="355.70" stroke="#c4c4c4" stroke-width="1"/>
<line  x1="348.00" y1="355.70" x2="683.80" y2="355.70" stroke="#c4c4c4" stroke-width="1"/>
<line  x1="683.80" y1="183.50" x2="683.80" y2="355.70" stroke="#d0d0d0" stroke-width="1"/>
<line  x1="344.80" y1="348.35" x2="348.00" y2="348.35" stroke="#c4c4c4" stroke-width="1"/>
<text x="343.80" y="350.65" font-size="6.96" text-anchor="end" fill="#1a1a1a" stroke="#1a1a1a" stroke-width="0.12" font-weight="normal" textLength="11.20" lengthAdjust="spacingAndGlyphs" >-1.0</text>
<line  x1="344.80" y1="329.64" x2="348.00" y2="329.64" stroke="#c4c4c4" stroke-width="1"/>
<line  x1="344.80" y1="310.93" x2="348.00" y2="310.93" stroke="#c4c4c4" stroke-width="1"/>
<text x="343.80" y="313.23" font-size="6.96" text-anchor="end" fill="#1a1a1a" stroke="#1a1a1a" stroke-width="0.12" font-weight="normal" textLength="11.20" lengthAdjust="spacingAndGlyphs" >-0.5</text>
<line  x1="344.80" y1="292.21" x2="348.00" y2="292.21" stroke="#c4c4c4" stroke-width="1"/>
<line  x1="344.80" y1="273.50" x2="348.00" y2="273.50" stroke="#c4c4c4" stroke-width="1"/>
<text x="343.80" y="275.80" font-size="6.96" text-anchor="end" fill="#1a1a1a" stroke="#1a1a1a" stroke-width="0.12" font-weight="normal" textLength="9.04" lengthAdjust="spacingAndGlyphs" >0.0</text>
<line  x1="344.80" y1="254.79" x2="348.00" y2="254.79" stroke="#c4c4c4" stroke-width="1"/>
<line  x1="344.80" y1="236.07" x2="348.00" y2="236.07" stroke="#c4c4c4" stroke-width="1"/>
<text x="343.80" y="238.38" font-size="6.96" text-anchor="end" fill="#1a1a1a" stroke="#1a1a1a" stroke-width="0.12" font-weight="normal" textLength="9.04" lengthAdjust="spacingAndGlyphs" >0.5</text>
<line  x1="344.80" y1="217.36" x2="348.00" y2="217.36" stroke="#c4c4c4" stroke-width="1"/>
<line  x1="344.80" y1="198.65" x2="348.00" y2="198.65" stroke="#c4c4c4" stroke-width="1"/>
<text x="343.80" y="200.95" font-size="6.96" text-anchor="end" fill="#1a1a1a" stroke="#1a1a1a" stroke-width="0.12" font-weight="normal" textLength="9.04" lengthAdjust="spacingAndGlyphs" >1.0</text>
<text x="0.00" y="0.00" font-size="7.92" text-anchor="middle" fill="#1a1a1a" stroke="#1a1a1a" stroke-width="0.12" font-weight="normal" textLength="66.65" lengthAdjust="spacingAndGlyphs" transform="translate(328.7,271.2) rotate(-90)">Fold change 2-ΔΔCt</text>
<rect x="352.20" y="186.90" width="8.30" height="6.80" fill="#1b7be3"/>
<rect x="352.20" y="196.20" width="8.30" height="6.40" fill="#cccccc"/>
<text x="363.20" y="192.80" font-size="7.22" text-anchor="start" fill="#1a1a1a" stroke="#1a1a1a" stroke-width="0.12" font-weight="normal" textLength="14.63" lengthAdjust="spacingAndGlyphs" >Male</text>
<text x="363.20" y="202.10" font-size="7.22" text-anchor="start" fill="#1a1a1a" stroke="#1a1a1a" stroke-width="0.12" font-weight="normal" textLength="22.51" lengthAdjust="spacingAndGlyphs" >Female</text>
<rect x="350.10" y="273.60" width="4.90" height="22.32" fill="#1b7be3"/>
<line shape-rendering="geometricPrecision" x1="352.55" y1="292.90" x2="352.55" y2="298.93" stroke="#1559b0" stroke-width="0.75"/>
<line shape-rendering="geometricPrecision" x1="351.35" y1="292.90" x2="353.75" y2="292.90" stroke="#1559b0" stroke-width="0.75"/>
<line shape-rendering="geometricPrecision" x1="351.35" y1="298.93" x2="353.75" y2="298.93" stroke="#1559b0" stroke-width="0.75"/>
<circle shape-rendering="geometricPrecision" cx="352.55" cy="290.94" r="1.1" fill="#2a50f0"/>
<circle shape-rendering="geometricPrecision" cx="352.55" cy="296.22" r="1.1" fill="#2a50f0"/>
<circle shape-rendering="geometricPrecision" cx="352.55" cy="298.86" r="1.1" fill="#2a50f0"/>
<rect x="355.00" y="272.09" width="4.90" height="1.51" fill="#cccccc"/>
<line shape-rendering="geometricPrecision" x1="357.45" y1="261.01" x2="357.45" y2="283.18" stroke="#6a6a6a" stroke-width="0.75"/>
<line shape-rendering="geometricPrecision" x1="356.25" y1="261.01" x2="358.65" y2="261.01" stroke="#6a6a6a" stroke-width="0.75"/>
<line shape-rendering="geometricPrecision" x1="356.25" y1="283.18" x2="358.65" y2="283.18" stroke="#6a6a6a" stroke-width="0.75"/>
<circle shape-rendering="geometricPrecision" cx="357.45" cy="261.54" r="1.1" fill="#444"/>
<circle shape-rendering="geometricPrecision" cx="357.45" cy="263.27" r="1.1" fill="#444"/>
<circle shape-rendering="geometricPrecision" cx="357.45" cy="293.96" r="1.1" fill="#444"/>
<text x="0.00" y="0.00" font-size="6.85" text-anchor="end" fill="#1a1a1a" stroke="#1a1a1a" stroke-width="0.12" font-weight="normal" textLength="45.19" lengthAdjust="spacingAndGlyphs" transform="translate(357.30,358.3) rotate(-90)">LOC101897984</text>
<rect x="363.54" y="238.92" width="4.90" height="34.68" fill="#1b7be3"/>
<line shape-rendering="geometricPrecision" x1="365.99" y1="226.10" x2="365.99" y2="251.73" stroke="#1559b0" stroke-width="0.75"/>
<line shape-rendering="geometricPrecision" x1="364.79" y1="226.10" x2="367.19" y2="226.10" stroke="#1559b0" stroke-width="0.75"/>
<line shape-rendering="geometricPrecision" x1="364.79" y1="251.73" x2="367.19" y2="251.73" stroke="#1559b0" stroke-width="0.75"/>
<circle shape-rendering="geometricPrecision" cx="365.99" cy="215.54" r="1.1" fill="#2a50f0"/>
<circle shape-rendering="geometricPrecision" cx="365.99" cy="257.01" r="1.1" fill="#2a50f0"/>
<circle shape-rendering="geometricPrecision" cx="365.99" cy="243.44" r="1.1" fill="#2a50f0"/>
<rect x="368.44" y="273.60" width="4.90" height="45.99" fill="#cccccc"/>
<line shape-rendering="geometricPrecision" x1="370.89" y1="315.45" x2="370.89" y2="323.74" stroke="#6a6a6a" stroke-width="0.75"/>
<line shape-rendering="geometricPrecision" x1="369.69" y1="315.45" x2="372.09" y2="315.45" stroke="#6a6a6a" stroke-width="0.75"/>
<line shape-rendering="geometricPrecision" x1="369.69" y1="323.74" x2="372.09" y2="323.74" stroke="#6a6a6a" stroke-width="0.75"/>
<circle shape-rendering="geometricPrecision" cx="370.89" cy="328.64" r="1.1" fill="#444"/>
<circle shape-rendering="geometricPrecision" cx="370.89" cy="315.07" r="1.1" fill="#444"/>
<circle shape-rendering="geometricPrecision" cx="370.89" cy="317.33" r="1.1" fill="#444"/>
<text x="0.00" y="0.00" font-size="6.85" text-anchor="end" fill="#1a1a1a" stroke="#1a1a1a" stroke-width="0.12" font-weight="normal" textLength="45.19" lengthAdjust="spacingAndGlyphs" transform="translate(370.74,358.3) rotate(-90)">LOC101896469</text>
<rect x="376.98" y="270.21" width="4.90" height="3.39" fill="#1b7be3"/>
<line shape-rendering="geometricPrecision" x1="379.43" y1="268.32" x2="379.43" y2="272.09" stroke="#1559b0" stroke-width="0.75"/>
<line shape-rendering="geometricPrecision" x1="378.23" y1="268.32" x2="380.63" y2="268.32" stroke="#1559b0" stroke-width="0.75"/>
<line shape-rendering="geometricPrecision" x1="378.23" y1="272.09" x2="380.63" y2="272.09" stroke="#1559b0" stroke-width="0.75"/>
<circle shape-rendering="geometricPrecision" cx="379.43" cy="266.81" r="1.1" fill="#2a50f0"/>
<circle shape-rendering="geometricPrecision" cx="379.43" cy="269.08" r="1.1" fill="#2a50f0"/>
<circle shape-rendering="geometricPrecision" cx="379.43" cy="271.34" r="1.1" fill="#2a50f0"/>
<rect x="381.88" y="273.60" width="4.90" height="24.13" fill="#cccccc"/>
<line shape-rendering="geometricPrecision" x1="384.33" y1="294.71" x2="384.33" y2="300.74" stroke="#6a6a6a" stroke-width="0.75"/>
<line shape-rendering="geometricPrecision" x1="383.13" y1="294.71" x2="385.53" y2="294.71" stroke="#6a6a6a" stroke-width="0.75"/>
<line shape-rendering="geometricPrecision" x1="383.13" y1="300.74" x2="385.53" y2="300.74" stroke="#6a6a6a" stroke-width="0.75"/>
<circle shape-rendering="geometricPrecision" cx="384.33" cy="300.74" r="1.1" fill="#444"/>
<circle shape-rendering="geometricPrecision" cx="384.33" cy="299.24" r="1.1" fill="#444"/>
<circle shape-rendering="geometricPrecision" cx="384.33" cy="296.22" r="1.1" fill="#444"/>
<text x="0.00" y="0.00" font-size="6.85" text-anchor="end" fill="#1a1a1a" stroke="#1a1a1a" stroke-width="0.12" font-weight="normal" textLength="45.19" lengthAdjust="spacingAndGlyphs" transform="translate(384.18,358.3) rotate(-90)">LOC101896081</text>
<rect x="390.42" y="273.60" width="4.90" height="62.58" fill="#1b7be3"/>
<line shape-rendering="geometricPrecision" x1="392.87" y1="325.63" x2="392.87" y2="346.74" stroke="#1559b0" stroke-width="0.75"/>
<line shape-rendering="geometricPrecision" x1="391.67" y1="325.63" x2="394.07" y2="325.63" stroke="#1559b0" stroke-width="0.75"/>
<line shape-rendering="geometricPrecision" x1="391.67" y1="346.74" x2="394.07" y2="346.74" stroke="#1559b0" stroke-width="0.75"/>
<circle shape-rendering="geometricPrecision" cx="392.87" cy="355.03" r="1.1" fill="#2a50f0"/>
<circle shape-rendering="geometricPrecision" cx="392.87" cy="326.38" r="1.1" fill="#2a50f0"/>
<circle shape-rendering="geometricPrecision" cx="392.87" cy="330.15" r="1.1" fill="#2a50f0"/>
<rect x="395.32" y="261.54" width="4.90" height="12.06" fill="#cccccc"/>
<line shape-rendering="geometricPrecision" x1="397.77" y1="250.98" x2="397.77" y2="272.09" stroke="#6a6a6a" stroke-width="0.75"/>
<line shape-rendering="geometricPrecision" x1="396.57" y1="250.98" x2="398.97" y2="250.98" stroke="#6a6a6a" stroke-width="0.75"/>
<line shape-rendering="geometricPrecision" x1="396.57" y1="272.09" x2="398.97" y2="272.09" stroke="#6a6a6a" stroke-width="0.75"/>
<circle shape-rendering="geometricPrecision" cx="397.77" cy="241.93" r="1.1" fill="#444"/>
<circle shape-rendering="geometricPrecision" cx="397.77" cy="276.62" r="1.1" fill="#444"/>
<circle shape-rendering="geometricPrecision" cx="397.77" cy="266.06" r="1.1" fill="#444"/>
<text x="0.00" y="0.00" font-size="6.85" text-anchor="end" fill="#1a1a1a" stroke="#1a1a1a" stroke-width="0.12" font-weight="normal" textLength="45.19" lengthAdjust="spacingAndGlyphs" transform="translate(397.62,358.3) rotate(-90)">LOC101891759</text>
<rect x="403.86" y="214.79" width="4.90" height="58.81" fill="#1b7be3"/>
<line shape-rendering="geometricPrecision" x1="406.31" y1="211.02" x2="406.31" y2="218.56" stroke="#1559b0" stroke-width="0.75"/>
<line shape-rendering="geometricPrecision" x1="405.11" y1="211.02" x2="407.51" y2="211.02" stroke="#1559b0" stroke-width="0.75"/>
<line shape-rendering="geometricPrecision" x1="405.11" y1="218.56" x2="407.51" y2="218.56" stroke="#1559b0" stroke-width="0.75"/>
<circle shape-rendering="geometricPrecision" cx="406.31" cy="205.74" r="1.1" fill="#2a50f0"/>
<circle shape-rendering="geometricPrecision" cx="406.31" cy="217.05" r="1.1" fill="#2a50f0"/>
<circle shape-rendering="geometricPrecision" cx="406.31" cy="220.82" r="1.1" fill="#2a50f0"/>
<rect x="408.76" y="269.83" width="4.90" height="3.77" fill="#cccccc"/>
<line shape-rendering="geometricPrecision" x1="411.21" y1="263.04" x2="411.21" y2="276.62" stroke="#6a6a6a" stroke-width="0.75"/>
<line shape-rendering="geometricPrecision" x1="410.01" y1="263.04" x2="412.41" y2="263.04" stroke="#6a6a6a" stroke-width="0.75"/>
<line shape-rendering="geometricPrecision" x1="410.01" y1="276.62" x2="412.41" y2="276.62" stroke="#6a6a6a" stroke-width="0.75"/>
<circle shape-rendering="geometricPrecision" cx="411.21" cy="263.04" r="1.1" fill="#444"/>
<circle shape-rendering="geometricPrecision" cx="411.21" cy="279.25" r="1.1" fill="#444"/>
<circle shape-rendering="geometricPrecision" cx="411.21" cy="266.06" r="1.1" fill="#444"/>
<text x="0.00" y="0.00" font-size="6.85" text-anchor="end" fill="#1a1a1a" stroke="#1a1a1a" stroke-width="0.12" font-weight="normal" textLength="45.19" lengthAdjust="spacingAndGlyphs" transform="translate(411.06,358.3) rotate(-90)">LOC101890728</text>
<rect x="417.30" y="272.09" width="4.90" height="1.51" fill="#1b7be3"/>
<line shape-rendering="geometricPrecision" x1="419.75" y1="269.08" x2="419.75" y2="275.11" stroke="#1559b0" stroke-width="0.75"/>
<line shape-rendering="geometricPrecision" x1="418.55" y1="269.08" x2="420.95" y2="269.08" stroke="#1559b0" stroke-width="0.75"/>
<line shape-rendering="geometricPrecision" x1="418.55" y1="275.11" x2="420.95" y2="275.11" stroke="#1559b0" stroke-width="0.75"/>
<circle shape-rendering="geometricPrecision" cx="419.75" cy="266.06" r="1.1" fill="#2a50f0"/>
<circle shape-rendering="geometricPrecision" cx="419.75" cy="278.12" r="1.1" fill="#2a50f0"/>
<rect x="422.20" y="273.60" width="4.90" height="14.33" fill="#cccccc"/>
<line shape-rendering="geometricPrecision" x1="424.65" y1="278.88" x2="424.65" y2="296.97" stroke="#6a6a6a" stroke-width="0.75"/>
<line shape-rendering="geometricPrecision" x1="423.45" y1="278.88" x2="425.85" y2="278.88" stroke="#6a6a6a" stroke-width="0.75"/>
<line shape-rendering="geometricPrecision" x1="423.45" y1="296.97" x2="425.85" y2="296.97" stroke="#6a6a6a" stroke-width="0.75"/>
<circle shape-rendering="geometricPrecision" cx="424.65" cy="305.27" r="1.1" fill="#444"/>
<circle shape-rendering="geometricPrecision" cx="424.65" cy="284.91" r="1.1" fill="#444"/>
<text x="0.00" y="0.00" font-size="6.85" text-anchor="end" fill="#1a1a1a" stroke="#1a1a1a" stroke-width="0.12" font-weight="normal" textLength="25.26" lengthAdjust="spacingAndGlyphs" transform="translate(424.50,358.3) rotate(-90)">CYP6G4</text>
<rect x="430.74" y="240.42" width="4.90" height="33.18" fill="#1b7be3"/>
<line shape-rendering="geometricPrecision" x1="433.19" y1="236.65" x2="433.19" y2="244.19" stroke="#1559b0" stroke-width="0.75"/>
<line shape-rendering="geometricPrecision" x1="431.99" y1="236.65" x2="434.39" y2="236.65" stroke="#1559b0" stroke-width="0.75"/>
<line shape-rendering="geometricPrecision" x1="431.99" y1="244.19" x2="434.39" y2="244.19" stroke="#1559b0" stroke-width="0.75"/>
<circle shape-rendering="geometricPrecision" cx="433.19" cy="232.13" r="1.1" fill="#2a50f0"/>
<circle shape-rendering="geometricPrecision" cx="433.19" cy="243.44" r="1.1" fill="#2a50f0"/>
<rect x="435.64" y="259.27" width="4.90" height="14.33" fill="#cccccc"/>
<line shape-rendering="geometricPrecision" x1="438.09" y1="257.77" x2="438.09" y2="260.78" stroke="#6a6a6a" stroke-width="0.75"/>
<line shape-rendering="geometricPrecision" x1="436.89" y1="257.77" x2="439.29" y2="257.77" stroke="#6a6a6a" stroke-width="0.75"/>
<line shape-rendering="geometricPrecision" x1="436.89" y1="260.78" x2="439.29" y2="260.78" stroke="#6a6a6a" stroke-width="0.75"/>
<circle shape-rendering="geometricPrecision" cx="438.09" cy="259.27" r="1.1" fill="#444"/>
<circle shape-rendering="geometricPrecision" cx="438.09" cy="260.78" r="1.1" fill="#444"/>
<circle shape-rendering="geometricPrecision" cx="438.09" cy="258.52" r="1.1" fill="#444"/>
<text x="0.00" y="0.00" font-size="6.85" text-anchor="end" fill="#1a1a1a" stroke="#1a1a1a" stroke-width="0.12" font-weight="normal" textLength="24.90" lengthAdjust="spacingAndGlyphs" transform="translate(437.94,358.3) rotate(-90)">CYP6D8</text>
<rect x="444.18" y="273.60" width="4.90" height="0.60" fill="#1b7be3"/>
<line shape-rendering="geometricPrecision" x1="446.63" y1="271.34" x2="446.63" y2="275.86" stroke="#1559b0" stroke-width="0.75"/>
<line shape-rendering="geometricPrecision" x1="445.43" y1="271.34" x2="447.83" y2="271.34" stroke="#1559b0" stroke-width="0.75"/>
<line shape-rendering="geometricPrecision" x1="445.43" y1="275.86" x2="447.83" y2="275.86" stroke="#1559b0" stroke-width="0.75"/>
<circle shape-rendering="geometricPrecision" cx="446.63" cy="271.34" r="1.1" fill="#2a50f0"/>
<circle shape-rendering="geometricPrecision" cx="446.63" cy="275.86" r="1.1" fill="#2a50f0"/>
<rect x="449.08" y="273.60" width="4.90" height="21.11" fill="#cccccc"/>
<line shape-rendering="geometricPrecision" x1="451.53" y1="288.68" x2="451.53" y2="300.74" stroke="#6a6a6a" stroke-width="0.75"/>
<line shape-rendering="geometricPrecision" x1="450.33" y1="288.68" x2="452.73" y2="288.68" stroke="#6a6a6a" stroke-width="0.75"/>
<line shape-rendering="geometricPrecision" x1="450.33" y1="300.74" x2="452.73" y2="300.74" stroke="#6a6a6a" stroke-width="0.75"/>
<circle shape-rendering="geometricPrecision" cx="451.53" cy="288.68" r="1.1" fill="#444"/>
<circle shape-rendering="geometricPrecision" cx="451.53" cy="292.45" r="1.1" fill="#444"/>
<text x="0.00" y="0.00" font-size="6.85" text-anchor="end" fill="#1a1a1a" stroke="#1a1a1a" stroke-width="0.12" font-weight="normal" textLength="24.90" lengthAdjust="spacingAndGlyphs" transform="translate(451.38,358.3) rotate(-90)">CYP6D3</text>
<rect x="457.62" y="273.60" width="4.90" height="27.14" fill="#1b7be3"/>
<line shape-rendering="geometricPrecision" x1="460.07" y1="295.47" x2="460.07" y2="306.02" stroke="#1559b0" stroke-width="0.75"/>
<line shape-rendering="geometricPrecision" x1="458.87" y1="295.47" x2="461.27" y2="295.47" stroke="#1559b0" stroke-width="0.75"/>
<line shape-rendering="geometricPrecision" x1="458.87" y1="306.02" x2="461.27" y2="306.02" stroke="#1559b0" stroke-width="0.75"/>
<circle shape-rendering="geometricPrecision" cx="460.07" cy="309.04" r="1.1" fill="#2a50f0"/>
<rect x="462.52" y="265.31" width="4.90" height="8.29" fill="#cccccc"/>
<line shape-rendering="geometricPrecision" x1="464.97" y1="259.27" x2="464.97" y2="271.34" stroke="#6a6a6a" stroke-width="0.75"/>
<line shape-rendering="geometricPrecision" x1="463.77" y1="259.27" x2="466.17" y2="259.27" stroke="#6a6a6a" stroke-width="0.75"/>
<line shape-rendering="geometricPrecision" x1="463.77" y1="271.34" x2="466.17" y2="271.34" stroke="#6a6a6a" stroke-width="0.75"/>
<circle shape-rendering="geometricPrecision" cx="464.97" cy="259.27" r="1.1" fill="#444"/>
<circle shape-rendering="geometricPrecision" cx="464.97" cy="269.83" r="1.1" fill="#444"/>
<text x="0.00" y="0.00" font-size="6.85" text-anchor="end" fill="#1a1a1a" stroke="#1a1a1a" stroke-width="0.12" font-weight="normal" textLength="45.19" lengthAdjust="spacingAndGlyphs" transform="translate(464.82,358.3) rotate(-90)">LOC105613374</text>
<rect x="471.06" y="273.60" width="4.90" height="12.82" fill="#1b7be3"/>
<line shape-rendering="geometricPrecision" x1="473.51" y1="280.39" x2="473.51" y2="292.45" stroke="#1559b0" stroke-width="0.75"/>
<line shape-rendering="geometricPrecision" x1="472.31" y1="280.39" x2="474.71" y2="280.39" stroke="#1559b0" stroke-width="0.75"/>
<line shape-rendering="geometricPrecision" x1="472.31" y1="292.45" x2="474.71" y2="292.45" stroke="#1559b0" stroke-width="0.75"/>
<circle shape-rendering="geometricPrecision" cx="473.51" cy="292.45" r="1.1" fill="#2a50f0"/>
<rect x="475.96" y="207.70" width="4.90" height="65.90" fill="#cccccc"/>
<line shape-rendering="geometricPrecision" x1="478.41" y1="193.37" x2="478.41" y2="222.03" stroke="#6a6a6a" stroke-width="0.75"/>
<line shape-rendering="geometricPrecision" x1="477.21" y1="193.37" x2="479.61" y2="193.37" stroke="#6a6a6a" stroke-width="0.75"/>
<line shape-rendering="geometricPrecision" x1="477.21" y1="222.03" x2="479.61" y2="222.03" stroke="#6a6a6a" stroke-width="0.75"/>
<circle shape-rendering="geometricPrecision" cx="478.41" cy="184.18" r="1.1" fill="#444"/>
<circle shape-rendering="geometricPrecision" cx="478.41" cy="219.31" r="1.1" fill="#444"/>
<circle shape-rendering="geometricPrecision" cx="478.41" cy="223.08" r="1.1" fill="#444"/>
<text x="0.00" y="0.00" font-size="6.85" text-anchor="end" fill="#1a1a1a" stroke="#1a1a1a" stroke-width="0.12" font-weight="normal" textLength="45.19" lengthAdjust="spacingAndGlyphs" transform="translate(478.26,358.3) rotate(-90)">LOC101894565</text>
<rect x="484.50" y="272.09" width="4.90" height="1.51" fill="#1b7be3"/>
<line shape-rendering="geometricPrecision" x1="486.95" y1="266.06" x2="486.95" y2="278.12" stroke="#1559b0" stroke-width="0.75"/>
<line shape-rendering="geometricPrecision" x1="485.75" y1="266.06" x2="488.15" y2="266.06" stroke="#1559b0" stroke-width="0.75"/>
<line shape-rendering="geometricPrecision" x1="485.75" y1="278.12" x2="488.15" y2="278.12" stroke="#1559b0" stroke-width="0.75"/>
<circle shape-rendering="geometricPrecision" cx="486.95" cy="260.03" r="1.1" fill="#2a50f0"/>
<circle shape-rendering="geometricPrecision" cx="486.95" cy="277.37" r="1.1" fill="#2a50f0"/>
<circle shape-rendering="geometricPrecision" cx="486.95" cy="277.37" r="1.1" fill="#2a50f0"/>
<rect x="489.40" y="271.34" width="4.90" height="2.26" fill="#cccccc"/>
<line shape-rendering="geometricPrecision" x1="491.85" y1="267.19" x2="491.85" y2="275.49" stroke="#6a6a6a" stroke-width="0.75"/>
<line shape-rendering="geometricPrecision" x1="490.65" y1="267.19" x2="493.05" y2="267.19" stroke="#6a6a6a" stroke-width="0.75"/>
<line shape-rendering="geometricPrecision" x1="490.65" y1="275.49" x2="493.05" y2="275.49" stroke="#6a6a6a" stroke-width="0.75"/>
<circle shape-rendering="geometricPrecision" cx="491.85" cy="268.32" r="1.1" fill="#444"/>
<circle shape-rendering="geometricPrecision" cx="491.85" cy="271.34" r="1.1" fill="#444"/>
<circle shape-rendering="geometricPrecision" cx="491.85" cy="273.60" r="1.1" fill="#444"/>
<text x="0.00" y="0.00" font-size="6.85" text-anchor="end" fill="#1a1a1a" stroke="#1a1a1a" stroke-width="0.12" font-weight="normal" textLength="45.19" lengthAdjust="spacingAndGlyphs" transform="translate(491.70,358.3) rotate(-90)">LOC101891293</text>
<rect x="497.94" y="273.60" width="4.90" height="20.89" fill="#1b7be3"/>
<line shape-rendering="geometricPrecision" x1="500.39" y1="292.22" x2="500.39" y2="296.75" stroke="#1559b0" stroke-width="0.75"/>
<line shape-rendering="geometricPrecision" x1="499.19" y1="292.22" x2="501.59" y2="292.22" stroke="#1559b0" stroke-width="0.75"/>
<line shape-rendering="geometricPrecision" x1="499.19" y1="296.75" x2="501.59" y2="296.75" stroke="#1559b0" stroke-width="0.75"/>
<circle shape-rendering="geometricPrecision" cx="500.39" cy="285.66" r="1.1" fill="#2a50f0"/>
<circle shape-rendering="geometricPrecision" cx="500.39" cy="295.47" r="1.1" fill="#2a50f0"/>
<circle shape-rendering="geometricPrecision" cx="500.39" cy="302.25" r="1.1" fill="#2a50f0"/>
<rect x="502.84" y="273.60" width="4.90" height="0.60" fill="#cccccc"/>
<line shape-rendering="geometricPrecision" x1="505.29" y1="268.32" x2="505.29" y2="278.88" stroke="#6a6a6a" stroke-width="0.75"/>
<line shape-rendering="geometricPrecision" x1="504.09" y1="268.32" x2="506.49" y2="268.32" stroke="#6a6a6a" stroke-width="0.75"/>
<line shape-rendering="geometricPrecision" x1="504.09" y1="278.88" x2="506.49" y2="278.88" stroke="#6a6a6a" stroke-width="0.75"/>
<circle shape-rendering="geometricPrecision" cx="505.29" cy="267.57" r="1.1" fill="#444"/>
<circle shape-rendering="geometricPrecision" cx="505.29" cy="269.08" r="1.1" fill="#444"/>
<circle shape-rendering="geometricPrecision" cx="505.29" cy="282.65" r="1.1" fill="#444"/>
<text x="0.00" y="0.00" font-size="6.85" text-anchor="end" fill="#1a1a1a" stroke="#1a1a1a" stroke-width="0.12" font-weight="normal" textLength="45.19" lengthAdjust="spacingAndGlyphs" transform="translate(505.14,358.3) rotate(-90)">LOC101888462</text>
<rect x="511.38" y="273.60" width="4.90" height="18.10" fill="#1b7be3"/>
<line shape-rendering="geometricPrecision" x1="513.83" y1="289.43" x2="513.83" y2="293.96" stroke="#1559b0" stroke-width="0.75"/>
<line shape-rendering="geometricPrecision" x1="512.63" y1="289.43" x2="515.03" y2="289.43" stroke="#1559b0" stroke-width="0.75"/>
<line shape-rendering="geometricPrecision" x1="512.63" y1="293.96" x2="515.03" y2="293.96" stroke="#1559b0" stroke-width="0.75"/>
<circle shape-rendering="geometricPrecision" cx="513.83" cy="285.66" r="1.1" fill="#2a50f0"/>
<circle shape-rendering="geometricPrecision" cx="513.83" cy="298.48" r="1.1" fill="#2a50f0"/>
<rect x="516.28" y="273.60" width="4.90" height="2.26" fill="#cccccc"/>
<line shape-rendering="geometricPrecision" x1="518.73" y1="272.09" x2="518.73" y2="279.63" stroke="#6a6a6a" stroke-width="0.75"/>
<line shape-rendering="geometricPrecision" x1="517.53" y1="272.09" x2="519.93" y2="272.09" stroke="#6a6a6a" stroke-width="0.75"/>
<line shape-rendering="geometricPrecision" x1="517.53" y1="279.63" x2="519.93" y2="279.63" stroke="#6a6a6a" stroke-width="0.75"/>
<circle shape-rendering="geometricPrecision" cx="518.73" cy="274.35" r="1.1" fill="#444"/>
<circle shape-rendering="geometricPrecision" cx="518.73" cy="283.78" r="1.1" fill="#444"/>
<text x="0.00" y="0.00" font-size="6.85" text-anchor="end" fill="#1a1a1a" stroke="#1a1a1a" stroke-width="0.12" font-weight="normal" textLength="45.19" lengthAdjust="spacingAndGlyphs" transform="translate(518.58,358.3) rotate(-90)">LOC101888341</text>
<rect x="524.82" y="273.60" width="4.90" height="6.79" fill="#1b7be3"/>
<line shape-rendering="geometricPrecision" x1="527.27" y1="278.12" x2="527.27" y2="282.65" stroke="#1559b0" stroke-width="0.75"/>
<line shape-rendering="geometricPrecision" x1="526.07" y1="278.12" x2="528.47" y2="278.12" stroke="#1559b0" stroke-width="0.75"/>
<line shape-rendering="geometricPrecision" x1="526.07" y1="282.65" x2="528.47" y2="282.65" stroke="#1559b0" stroke-width="0.75"/>
<circle shape-rendering="geometricPrecision" cx="527.27" cy="272.09" r="1.1" fill="#2a50f0"/>
<circle shape-rendering="geometricPrecision" cx="527.27" cy="282.65" r="1.1" fill="#2a50f0"/>
<circle shape-rendering="geometricPrecision" cx="527.27" cy="285.66" r="1.1" fill="#2a50f0"/>
<rect x="529.72" y="269.83" width="4.90" height="3.77" fill="#cccccc"/>
<line shape-rendering="geometricPrecision" x1="532.17" y1="265.31" x2="532.17" y2="274.35" stroke="#6a6a6a" stroke-width="0.75"/>
<line shape-rendering="geometricPrecision" x1="530.97" y1="265.31" x2="533.37" y2="265.31" stroke="#6a6a6a" stroke-width="0.75"/>
<line shape-rendering="geometricPrecision" x1="530.97" y1="274.35" x2="533.37" y2="274.35" stroke="#6a6a6a" stroke-width="0.75"/>
<circle shape-rendering="geometricPrecision" cx="532.17" cy="277.75" r="1.1" fill="#444"/>
<circle shape-rendering="geometricPrecision" cx="532.17" cy="266.06" r="1.1" fill="#444"/>
<text x="0.00" y="0.00" font-size="6.85" text-anchor="end" fill="#1a1a1a" stroke="#1a1a1a" stroke-width="0.12" font-weight="normal" textLength="45.19" lengthAdjust="spacingAndGlyphs" transform="translate(532.02,358.3) rotate(-90)">LOC101888032</text>
<rect x="538.26" y="194.88" width="4.90" height="78.72" fill="#1b7be3"/>
<line shape-rendering="geometricPrecision" x1="540.71" y1="189.15" x2="540.71" y2="200.61" stroke="#1559b0" stroke-width="0.75"/>
<line shape-rendering="geometricPrecision" x1="539.51" y1="189.15" x2="541.91" y2="189.15" stroke="#1559b0" stroke-width="0.75"/>
<line shape-rendering="geometricPrecision" x1="539.51" y1="200.61" x2="541.91" y2="200.61" stroke="#1559b0" stroke-width="0.75"/>
<circle shape-rendering="geometricPrecision" cx="540.71" cy="185.38" r="1.1" fill="#2a50f0"/>
<rect x="543.16" y="211.77" width="4.90" height="61.83" fill="#cccccc"/>
<line shape-rendering="geometricPrecision" x1="545.61" y1="205.74" x2="545.61" y2="217.80" stroke="#6a6a6a" stroke-width="0.75"/>
<line shape-rendering="geometricPrecision" x1="544.41" y1="205.74" x2="546.81" y2="205.74" stroke="#6a6a6a" stroke-width="0.75"/>
<line shape-rendering="geometricPrecision" x1="544.41" y1="217.80" x2="546.81" y2="217.80" stroke="#6a6a6a" stroke-width="0.75"/>
<circle shape-rendering="geometricPrecision" cx="545.61" cy="200.46" r="1.1" fill="#444"/>
<circle shape-rendering="geometricPrecision" cx="545.61" cy="213.28" r="1.1" fill="#444"/>
<text x="0.00" y="0.00" font-size="6.85" text-anchor="end" fill="#1a1a1a" stroke="#1a1a1a" stroke-width="0.12" font-weight="normal" textLength="10.67" lengthAdjust="spacingAndGlyphs" transform="translate(545.46,358.3) rotate(-90)">Gr2</text>
<rect x="551.70" y="273.60" width="4.90" height="29.41" fill="#1b7be3"/>
<line shape-rendering="geometricPrecision" x1="554.15" y1="299.99" x2="554.15" y2="306.02" stroke="#1559b0" stroke-width="0.75"/>
<line shape-rendering="geometricPrecision" x1="552.95" y1="299.99" x2="555.35" y2="299.99" stroke="#1559b0" stroke-width="0.75"/>
<line shape-rendering="geometricPrecision" x1="552.95" y1="306.02" x2="555.35" y2="306.02" stroke="#1559b0" stroke-width="0.75"/>
<circle shape-rendering="geometricPrecision" cx="554.15" cy="293.20" r="1.1" fill="#2a50f0"/>
<circle shape-rendering="geometricPrecision" cx="554.15" cy="307.53" r="1.1" fill="#2a50f0"/>
<rect x="556.60" y="273.60" width="4.90" height="14.33" fill="#cccccc"/>
<line shape-rendering="geometricPrecision" x1="559.05" y1="281.89" x2="559.05" y2="293.96" stroke="#6a6a6a" stroke-width="0.75"/>
<line shape-rendering="geometricPrecision" x1="557.85" y1="281.89" x2="560.25" y2="281.89" stroke="#6a6a6a" stroke-width="0.75"/>
<line shape-rendering="geometricPrecision" x1="557.85" y1="293.96" x2="560.25" y2="293.96" stroke="#6a6a6a" stroke-width="0.75"/>
<circle shape-rendering="geometricPrecision" cx="559.05" cy="281.14" r="1.1" fill="#444"/>
<circle shape-rendering="geometricPrecision" cx="559.05" cy="284.16" r="1.1" fill="#444"/>
<circle shape-rendering="geometricPrecision" cx="559.05" cy="290.94" r="1.1" fill="#444"/>
<circle shape-rendering="geometricPrecision" cx="559.05" cy="293.58" r="1.1" fill="#444"/>
<text x="0.00" y="0.00" font-size="6.85" text-anchor="end" fill="#1a1a1a" stroke="#1a1a1a" stroke-width="0.12" font-weight="normal" textLength="45.19" lengthAdjust="spacingAndGlyphs" transform="translate(558.90,358.3) rotate(-90)">LOC101894050</text>
<rect x="565.14" y="273.60" width="4.90" height="18.10" fill="#1b7be3"/>
<line shape-rendering="geometricPrecision" x1="567.59" y1="278.12" x2="567.59" y2="305.27" stroke="#1559b0" stroke-width="0.75"/>
<line shape-rendering="geometricPrecision" x1="566.39" y1="278.12" x2="568.79" y2="278.12" stroke="#1559b0" stroke-width="0.75"/>
<line shape-rendering="geometricPrecision" x1="566.39" y1="305.27" x2="568.79" y2="305.27" stroke="#1559b0" stroke-width="0.75"/>
<circle shape-rendering="geometricPrecision" cx="567.59" cy="273.60" r="1.1" fill="#2a50f0"/>
<circle shape-rendering="geometricPrecision" cx="567.59" cy="284.16" r="1.1" fill="#2a50f0"/>
<circle shape-rendering="geometricPrecision" cx="567.59" cy="318.09" r="1.1" fill="#2a50f0"/>
<rect x="570.04" y="239.67" width="4.90" height="33.93" fill="#cccccc"/>
<line shape-rendering="geometricPrecision" x1="572.49" y1="233.64" x2="572.49" y2="245.70" stroke="#6a6a6a" stroke-width="0.75"/>
<line shape-rendering="geometricPrecision" x1="571.29" y1="233.64" x2="573.69" y2="233.64" stroke="#6a6a6a" stroke-width="0.75"/>
<line shape-rendering="geometricPrecision" x1="571.29" y1="245.70" x2="573.69" y2="245.70" stroke="#6a6a6a" stroke-width="0.75"/>
<circle shape-rendering="geometricPrecision" cx="572.49" cy="239.67" r="1.1" fill="#444"/>
<circle shape-rendering="geometricPrecision" cx="572.49" cy="235.90" r="1.1" fill="#444"/>
<text x="0.00" y="0.00" font-size="6.85" text-anchor="end" fill="#1a1a1a" stroke="#1a1a1a" stroke-width="0.12" font-weight="normal" textLength="45.19" lengthAdjust="spacingAndGlyphs" transform="translate(572.34,358.3) rotate(-90)">LOC101893875</text>
<rect x="578.58" y="273.60" width="4.90" height="28.28" fill="#1b7be3"/>
<line shape-rendering="geometricPrecision" x1="581.03" y1="292.83" x2="581.03" y2="310.92" stroke="#1559b0" stroke-width="0.75"/>
<line shape-rendering="geometricPrecision" x1="579.83" y1="292.83" x2="582.23" y2="292.83" stroke="#1559b0" stroke-width="0.75"/>
<line shape-rendering="geometricPrecision" x1="579.83" y1="310.92" x2="582.23" y2="310.92" stroke="#1559b0" stroke-width="0.75"/>
<circle shape-rendering="geometricPrecision" cx="581.03" cy="288.68" r="1.1" fill="#2a50f0"/>
<circle shape-rendering="geometricPrecision" cx="581.03" cy="297.73" r="1.1" fill="#2a50f0"/>
<circle shape-rendering="geometricPrecision" cx="581.03" cy="319.59" r="1.1" fill="#2a50f0"/>
<rect x="583.48" y="273.60" width="4.90" height="49.01" fill="#cccccc"/>
<line shape-rendering="geometricPrecision" x1="585.93" y1="311.30" x2="585.93" y2="333.92" stroke="#6a6a6a" stroke-width="0.75"/>
<line shape-rendering="geometricPrecision" x1="584.73" y1="311.30" x2="587.13" y2="311.30" stroke="#6a6a6a" stroke-width="0.75"/>
<line shape-rendering="geometricPrecision" x1="584.73" y1="333.92" x2="587.13" y2="333.92" stroke="#6a6a6a" stroke-width="0.75"/>
<circle shape-rendering="geometricPrecision" cx="585.93" cy="345.23" r="1.1" fill="#444"/>
<circle shape-rendering="geometricPrecision" cx="585.93" cy="311.30" r="1.1" fill="#444"/>
<text x="0.00" y="0.00" font-size="6.85" text-anchor="end" fill="#1a1a1a" stroke="#1a1a1a" stroke-width="0.12" font-weight="normal" textLength="45.19" lengthAdjust="spacingAndGlyphs" transform="translate(585.78,358.3) rotate(-90)">LOC101891684</text>
<rect x="592.02" y="273.60" width="4.90" height="12.06" fill="#1b7be3"/>
<line shape-rendering="geometricPrecision" x1="594.47" y1="282.65" x2="594.47" y2="288.68" stroke="#1559b0" stroke-width="0.75"/>
<line shape-rendering="geometricPrecision" x1="593.27" y1="282.65" x2="595.67" y2="282.65" stroke="#1559b0" stroke-width="0.75"/>
<line shape-rendering="geometricPrecision" x1="593.27" y1="288.68" x2="595.67" y2="288.68" stroke="#1559b0" stroke-width="0.75"/>
<circle shape-rendering="geometricPrecision" cx="594.47" cy="283.40" r="1.1" fill="#2a50f0"/>
<circle shape-rendering="geometricPrecision" cx="594.47" cy="287.17" r="1.1" fill="#2a50f0"/>
<circle shape-rendering="geometricPrecision" cx="594.47" cy="289.81" r="1.1" fill="#2a50f0"/>
<rect x="596.92" y="273.60" width="4.90" height="18.10" fill="#cccccc"/>
<line shape-rendering="geometricPrecision" x1="599.37" y1="285.29" x2="599.37" y2="298.11" stroke="#6a6a6a" stroke-width="0.75"/>
<line shape-rendering="geometricPrecision" x1="598.17" y1="285.29" x2="600.57" y2="285.29" stroke="#6a6a6a" stroke-width="0.75"/>
<line shape-rendering="geometricPrecision" x1="598.17" y1="298.11" x2="600.57" y2="298.11" stroke="#6a6a6a" stroke-width="0.75"/>
<circle shape-rendering="geometricPrecision" cx="599.37" cy="279.63" r="1.1" fill="#444"/>
<circle shape-rendering="geometricPrecision" cx="599.37" cy="293.96" r="1.1" fill="#444"/>
<circle shape-rendering="geometricPrecision" cx="599.37" cy="303.38" r="1.1" fill="#444"/>
<text x="0.00" y="0.00" font-size="6.85" text-anchor="end" fill="#1a1a1a" stroke="#1a1a1a" stroke-width="0.12" font-weight="normal" textLength="45.19" lengthAdjust="spacingAndGlyphs" transform="translate(599.22,358.3) rotate(-90)">LOC101888736</text>
<rect x="605.46" y="253.24" width="4.90" height="20.36" fill="#1b7be3"/>
<line shape-rendering="geometricPrecision" x1="607.91" y1="247.21" x2="607.91" y2="259.27" stroke="#1559b0" stroke-width="0.75"/>
<line shape-rendering="geometricPrecision" x1="606.71" y1="247.21" x2="609.11" y2="247.21" stroke="#1559b0" stroke-width="0.75"/>
<line shape-rendering="geometricPrecision" x1="606.71" y1="259.27" x2="609.11" y2="259.27" stroke="#1559b0" stroke-width="0.75"/>
<circle shape-rendering="geometricPrecision" cx="607.91" cy="241.93" r="1.1" fill="#2a50f0"/>
<rect x="610.36" y="242.69" width="4.90" height="30.91" fill="#cccccc"/>
<line shape-rendering="geometricPrecision" x1="612.81" y1="236.65" x2="612.81" y2="248.72" stroke="#6a6a6a" stroke-width="0.75"/>
<line shape-rendering="geometricPrecision" x1="611.61" y1="236.65" x2="614.01" y2="236.65" stroke="#6a6a6a" stroke-width="0.75"/>
<line shape-rendering="geometricPrecision" x1="611.61" y1="248.72" x2="614.01" y2="248.72" stroke="#6a6a6a" stroke-width="0.75"/>
<circle shape-rendering="geometricPrecision" cx="612.81" cy="236.65" r="1.1" fill="#444"/>
<circle shape-rendering="geometricPrecision" cx="612.81" cy="247.21" r="1.1" fill="#444"/>
<text x="0.00" y="0.00" font-size="6.85" text-anchor="end" fill="#1a1a1a" stroke="#1a1a1a" stroke-width="0.12" font-weight="normal" textLength="45.19" lengthAdjust="spacingAndGlyphs" transform="translate(612.66,358.3) rotate(-90)">LOC101894072</text>
<rect x="618.90" y="206.12" width="4.90" height="67.48" fill="#1b7be3"/>
<line shape-rendering="geometricPrecision" x1="621.35" y1="198.95" x2="621.35" y2="213.28" stroke="#1559b0" stroke-width="0.75"/>
<line shape-rendering="geometricPrecision" x1="620.15" y1="198.95" x2="622.55" y2="198.95" stroke="#1559b0" stroke-width="0.75"/>
<line shape-rendering="geometricPrecision" x1="620.15" y1="213.28" x2="622.55" y2="213.28" stroke="#1559b0" stroke-width="0.75"/>
<circle shape-rendering="geometricPrecision" cx="621.35" cy="190.66" r="1.1" fill="#2a50f0"/>
<circle shape-rendering="geometricPrecision" cx="621.35" cy="209.51" r="1.1" fill="#2a50f0"/>
<rect x="623.80" y="273.60" width="4.90" height="1.51" fill="#cccccc"/>
<line shape-rendering="geometricPrecision" x1="626.25" y1="269.83" x2="626.25" y2="280.39" stroke="#6a6a6a" stroke-width="0.75"/>
<line shape-rendering="geometricPrecision" x1="625.05" y1="269.83" x2="627.45" y2="269.83" stroke="#6a6a6a" stroke-width="0.75"/>
<line shape-rendering="geometricPrecision" x1="625.05" y1="280.39" x2="627.45" y2="280.39" stroke="#6a6a6a" stroke-width="0.75"/>
<circle shape-rendering="geometricPrecision" cx="626.25" cy="264.93" r="1.1" fill="#444"/>
<circle shape-rendering="geometricPrecision" cx="626.25" cy="275.86" r="1.1" fill="#444"/>
<circle shape-rendering="geometricPrecision" cx="626.25" cy="285.66" r="1.1" fill="#444"/>
<text x="0.00" y="0.00" font-size="6.85" text-anchor="end" fill="#1a1a1a" stroke="#1a1a1a" stroke-width="0.12" font-weight="normal" textLength="45.19" lengthAdjust="spacingAndGlyphs" transform="translate(626.10,358.3) rotate(-90)">LOC101890854</text>
<rect x="632.34" y="272.85" width="4.90" height="0.75" fill="#1b7be3"/>
<line shape-rendering="geometricPrecision" x1="634.79" y1="268.47" x2="634.79" y2="277.22" stroke="#1559b0" stroke-width="0.75"/>
<line shape-rendering="geometricPrecision" x1="633.59" y1="268.47" x2="635.99" y2="268.47" stroke="#1559b0" stroke-width="0.75"/>
<line shape-rendering="geometricPrecision" x1="633.59" y1="277.22" x2="635.99" y2="277.22" stroke="#1559b0" stroke-width="0.75"/>
<circle shape-rendering="geometricPrecision" cx="634.79" cy="267.95" r="1.1" fill="#2a50f0"/>
<circle shape-rendering="geometricPrecision" cx="634.79" cy="270.96" r="1.1" fill="#2a50f0"/>
<circle shape-rendering="geometricPrecision" cx="634.79" cy="279.63" r="1.1" fill="#2a50f0"/>
<rect x="637.24" y="273.60" width="4.90" height="25.26" fill="#cccccc"/>
<line shape-rendering="geometricPrecision" x1="639.69" y1="296.97" x2="639.69" y2="300.74" stroke="#6a6a6a" stroke-width="0.75"/>
<line shape-rendering="geometricPrecision" x1="638.49" y1="296.97" x2="640.89" y2="296.97" stroke="#6a6a6a" stroke-width="0.75"/>
<line shape-rendering="geometricPrecision" x1="638.49" y1="300.74" x2="640.89" y2="300.74" stroke="#6a6a6a" stroke-width="0.75"/>
<circle shape-rendering="geometricPrecision" cx="639.69" cy="296.97" r="1.1" fill="#444"/>
<circle shape-rendering="geometricPrecision" cx="639.69" cy="304.89" r="1.1" fill="#444"/>
<text x="0.00" y="0.00" font-size="6.85" text-anchor="end" fill="#1a1a1a" stroke="#1a1a1a" stroke-width="0.12" font-weight="normal" textLength="45.19" lengthAdjust="spacingAndGlyphs" transform="translate(639.54,358.3) rotate(-90)">LOC101898526</text>
<rect x="645.78" y="273.60" width="4.90" height="50.97" fill="#1b7be3"/>
<line shape-rendering="geometricPrecision" x1="648.23" y1="321.55" x2="648.23" y2="327.59" stroke="#1559b0" stroke-width="0.75"/>
<line shape-rendering="geometricPrecision" x1="647.03" y1="321.55" x2="649.43" y2="321.55" stroke="#1559b0" stroke-width="0.75"/>
<line shape-rendering="geometricPrecision" x1="647.03" y1="327.59" x2="649.43" y2="327.59" stroke="#1559b0" stroke-width="0.75"/>
<circle shape-rendering="geometricPrecision" cx="648.23" cy="326.38" r="1.1" fill="#2a50f0"/>
<circle shape-rendering="geometricPrecision" cx="648.23" cy="329.40" r="1.1" fill="#2a50f0"/>
<rect x="650.68" y="273.60" width="4.90" height="11.31" fill="#cccccc"/>
<line shape-rendering="geometricPrecision" x1="653.13" y1="283.40" x2="653.13" y2="286.42" stroke="#6a6a6a" stroke-width="0.75"/>
<line shape-rendering="geometricPrecision" x1="651.93" y1="283.40" x2="654.33" y2="283.40" stroke="#6a6a6a" stroke-width="0.75"/>
<line shape-rendering="geometricPrecision" x1="651.93" y1="286.42" x2="654.33" y2="286.42" stroke="#6a6a6a" stroke-width="0.75"/>
<circle shape-rendering="geometricPrecision" cx="653.13" cy="283.40" r="1.1" fill="#444"/>
<text x="0.00" y="0.00" font-size="6.85" text-anchor="end" fill="#1a1a1a" stroke="#1a1a1a" stroke-width="0.12" font-weight="normal" textLength="45.19" lengthAdjust="spacingAndGlyphs" transform="translate(652.98,358.3) rotate(-90)">LOC101897660</text>
<rect x="659.22" y="273.60" width="4.90" height="33.70" fill="#1b7be3"/>
<line shape-rendering="geometricPrecision" x1="661.67" y1="302.03" x2="661.67" y2="312.58" stroke="#1559b0" stroke-width="0.75"/>
<line shape-rendering="geometricPrecision" x1="660.47" y1="302.03" x2="662.87" y2="302.03" stroke="#1559b0" stroke-width="0.75"/>
<line shape-rendering="geometricPrecision" x1="660.47" y1="312.58" x2="662.87" y2="312.58" stroke="#1559b0" stroke-width="0.75"/>
<circle shape-rendering="geometricPrecision" cx="661.67" cy="300.74" r="1.1" fill="#2a50f0"/>
<circle shape-rendering="geometricPrecision" cx="661.67" cy="318.09" r="1.1" fill="#2a50f0"/>
<rect x="664.12" y="273.60" width="4.90" height="42.22" fill="#cccccc"/>
<line shape-rendering="geometricPrecision" x1="666.57" y1="304.89" x2="666.57" y2="326.76" stroke="#6a6a6a" stroke-width="0.75"/>
<line shape-rendering="geometricPrecision" x1="665.37" y1="304.89" x2="667.77" y2="304.89" stroke="#6a6a6a" stroke-width="0.75"/>
<line shape-rendering="geometricPrecision" x1="665.37" y1="326.76" x2="667.77" y2="326.76" stroke="#6a6a6a" stroke-width="0.75"/>
<circle shape-rendering="geometricPrecision" cx="666.57" cy="293.20" r="1.1" fill="#444"/>
<circle shape-rendering="geometricPrecision" cx="666.57" cy="332.41" r="1.1" fill="#444"/>
<text x="0.00" y="0.00" font-size="6.85" text-anchor="end" fill="#1a1a1a" stroke="#1a1a1a" stroke-width="0.12" font-weight="normal" textLength="45.19" lengthAdjust="spacingAndGlyphs" transform="translate(666.42,358.3) rotate(-90)">LOC101893003</text>
<rect x="672.66" y="257.01" width="4.90" height="16.59" fill="#1b7be3"/>
<line shape-rendering="geometricPrecision" x1="675.11" y1="253.24" x2="675.11" y2="260.78" stroke="#1559b0" stroke-width="0.75"/>
<line shape-rendering="geometricPrecision" x1="673.91" y1="253.24" x2="676.31" y2="253.24" stroke="#1559b0" stroke-width="0.75"/>
<line shape-rendering="geometricPrecision" x1="673.91" y1="260.78" x2="676.31" y2="260.78" stroke="#1559b0" stroke-width="0.75"/>
<circle shape-rendering="geometricPrecision" cx="675.11" cy="250.98" r="1.1" fill="#2a50f0"/>
<rect x="677.56" y="223.08" width="4.90" height="50.52" fill="#cccccc"/>
<line shape-rendering="geometricPrecision" x1="680.01" y1="214.03" x2="680.01" y2="232.13" stroke="#6a6a6a" stroke-width="0.75"/>
<line shape-rendering="geometricPrecision" x1="678.81" y1="214.03" x2="681.21" y2="214.03" stroke="#6a6a6a" stroke-width="0.75"/>
<line shape-rendering="geometricPrecision" x1="678.81" y1="232.13" x2="681.21" y2="232.13" stroke="#6a6a6a" stroke-width="0.75"/>
<circle shape-rendering="geometricPrecision" cx="680.01" cy="214.03" r="1.1" fill="#444"/>
<circle shape-rendering="geometricPrecision" cx="680.01" cy="232.13" r="1.1" fill="#444"/>
<text x="0.00" y="0.00" font-size="6.85" text-anchor="end" fill="#1a1a1a" stroke="#1a1a1a" stroke-width="0.12" font-weight="normal" textLength="45.19" lengthAdjust="spacingAndGlyphs" transform="translate(679.86,358.3) rotate(-90)">LOC101896501</text>
<line  x1="349.08" y1="406.10" x2="455.00" y2="406.10" stroke="#c8c8c8" stroke-width="1"/>
<line  x1="349.08" y1="405.00" x2="349.08" y2="406.10" stroke="#c8c8c8" stroke-width="1"/>
<line  x1="455.00" y1="405.00" x2="455.00" y2="406.10" stroke="#c8c8c8" stroke-width="1"/>
<text x="0.00" y="0.00" font-size="5.80" text-anchor="start" fill="#1a1a1a"  font-weight="normal" textLength="24.10" lengthAdjust="spacingAndGlyphs" transform="translate(453.50,354.2) rotate(-90)">Cell detox</text>
<line  x1="456.60" y1="406.10" x2="535.64" y2="406.10" stroke="#c8c8c8" stroke-width="1"/>
<line  x1="456.60" y1="405.00" x2="456.60" y2="406.10" stroke="#c8c8c8" stroke-width="1"/>
<line  x1="535.64" y1="405.00" x2="535.64" y2="406.10" stroke="#c8c8c8" stroke-width="1"/>
<text x="0.00" y="0.00" font-size="5.80" text-anchor="start" fill="#1a1a1a"  font-weight="normal" textLength="56.64" lengthAdjust="spacingAndGlyphs" transform="translate(534.14,354.2) rotate(-90)">Odorant binding protein</text>
<line  x1="537.24" y1="406.10" x2="549.08" y2="406.10" stroke="#c8c8c8" stroke-width="1"/>
<line  x1="537.24" y1="405.00" x2="537.24" y2="406.10" stroke="#c8c8c8" stroke-width="1"/>
<line  x1="549.08" y1="405.00" x2="549.08" y2="406.10" stroke="#c8c8c8" stroke-width="1"/>
<text x="0.00" y="0.00" font-size="5.80" text-anchor="start" fill="#1a1a1a"  font-weight="normal" textLength="71.09" lengthAdjust="spacingAndGlyphs" transform="translate(547.58,354.2) rotate(-90)">Gustatory or odorant receptor</text>
<line  x1="550.68" y1="406.10" x2="575.96" y2="406.10" stroke="#c8c8c8" stroke-width="1"/>
<line  x1="550.68" y1="405.00" x2="550.68" y2="406.10" stroke="#c8c8c8" stroke-width="1"/>
<line  x1="575.96" y1="405.00" x2="575.96" y2="406.10" stroke="#c8c8c8" stroke-width="1"/>
<text x="0.00" y="0.00" font-size="5.80" text-anchor="start" fill="#1a1a1a"  font-weight="normal" textLength="40.67" lengthAdjust="spacingAndGlyphs" transform="translate(574.46,354.2) rotate(-90)">Lipid metabolism</text>
<line  x1="577.56" y1="406.10" x2="602.84" y2="406.10" stroke="#c8c8c8" stroke-width="1"/>
<line  x1="577.56" y1="405.00" x2="577.56" y2="406.10" stroke="#c8c8c8" stroke-width="1"/>
<line  x1="602.84" y1="405.00" x2="602.84" y2="406.10" stroke="#c8c8c8" stroke-width="1"/>
<text x="0.00" y="0.00" font-size="5.80" text-anchor="start" fill="#1a1a1a"  font-weight="normal" textLength="42.78" lengthAdjust="spacingAndGlyphs" transform="translate(601.34,354.2) rotate(-90)">Signal processing</text>
<line  x1="604.44" y1="406.10" x2="616.28" y2="406.10" stroke="#c8c8c8" stroke-width="1"/>
<line  x1="604.44" y1="405.00" x2="604.44" y2="406.10" stroke="#c8c8c8" stroke-width="1"/>
<line  x1="616.28" y1="405.00" x2="616.28" y2="406.10" stroke="#c8c8c8" stroke-width="1"/>
<text x="0.00" y="0.00" font-size="5.80" text-anchor="start" fill="#1a1a1a"  font-weight="normal" textLength="40.96" lengthAdjust="spacingAndGlyphs" transform="translate(614.78,354.2) rotate(-90)">Circadian rhythm</text>
<line  x1="617.88" y1="406.10" x2="629.72" y2="406.10" stroke="#c8c8c8" stroke-width="1"/>
<line  x1="617.88" y1="405.00" x2="617.88" y2="406.10" stroke="#c8c8c8" stroke-width="1"/>
<line  x1="629.72" y1="405.00" x2="629.72" y2="406.10" stroke="#c8c8c8" stroke-width="1"/>
<text x="0.00" y="0.00" font-size="5.80" text-anchor="start" fill="#1a1a1a"  font-weight="normal" textLength="43.68" lengthAdjust="spacingAndGlyphs" transform="translate(628.22,354.2) rotate(-90)">Sugar metabolism</text>
<line  x1="631.32" y1="406.10" x2="683.48" y2="406.10" stroke="#c8c8c8" stroke-width="1"/>
<line  x1="631.32" y1="405.00" x2="631.32" y2="406.10" stroke="#c8c8c8" stroke-width="1"/>
<line  x1="683.48" y1="405.00" x2="683.48" y2="406.10" stroke="#c8c8c8" stroke-width="1"/>
<text x="0.00" y="0.00" font-size="5.80" text-anchor="start" fill="#1a1a1a"  font-weight="normal" textLength="65.97" lengthAdjust="spacingAndGlyphs" transform="translate(681.98,354.2) rotate(-90)">Other metabolism functions</text>
<text x="513.90" y="413.70" font-size="8.03" text-anchor="middle" fill="#1a1a1a" stroke="#1a1a1a" stroke-width="0.12" font-weight="normal" textLength="84.21" lengthAdjust="spacingAndGlyphs" >Functional groups / Gene</text>
</svg></body></html>
